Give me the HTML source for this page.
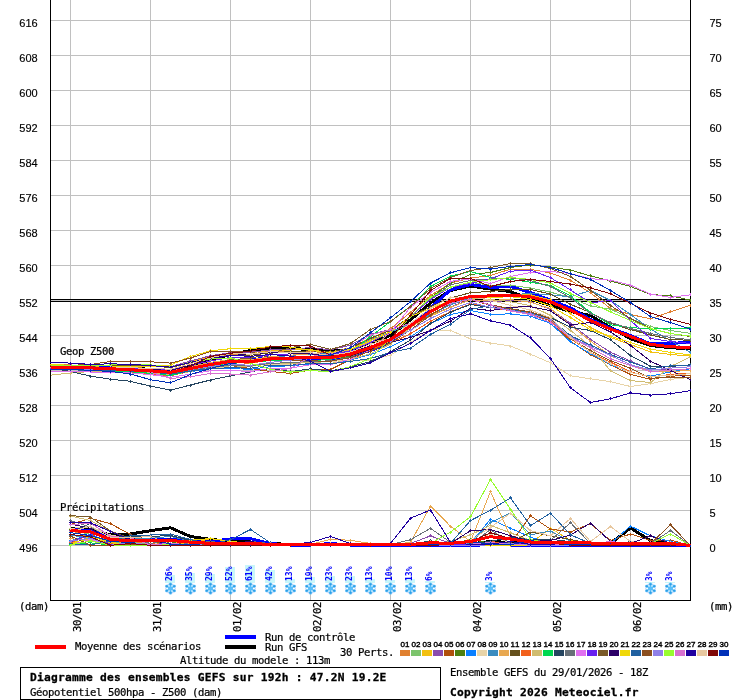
<!DOCTYPE html>
<html lang="fr"><head><meta charset="utf-8"><title>Diagramme des ensembles GEFS</title>
<style>
html,body{margin:0;padding:0;background:#fff;}
body{width:740px;height:700px;overflow:hidden;position:relative;}
svg{position:absolute;left:0;top:0;display:block;will-change:transform;}
.ax{font-family:"Liberation Sans",sans-serif;font-size:11px;fill:#000;stroke:#000;stroke-width:0.15px;}
.mono{font-family:"DejaVu Sans Mono","Liberation Mono",monospace;font-size:10.6px;letter-spacing:-0.381px;fill:#000;stroke:#000;stroke-width:0.22px;}
.monob{font-family:"DejaVu Sans Mono","Liberation Mono",monospace;font-size:11.2px;letter-spacing:0.257px;font-weight:bold;fill:#000;stroke:#000;stroke-width:0.3px;}
.tiny{font-family:"Liberation Sans",sans-serif;font-size:8px;fill:#000;stroke:#000;stroke-width:0.4px;}
.pct{font-family:"DejaVu Sans Mono","Liberation Mono",monospace;font-size:8.3px;fill:#0000ff;font-weight:bold;}
</style></head><body>
<svg width="740" height="700" viewBox="0 0 740 700">
<rect x="0" y="0" width="740" height="700" fill="#ffffff"/>
<g shape-rendering="crispEdges" stroke="#c0c0c0" stroke-width="1">
<line x1="50" y1="20.5" x2="691" y2="20.5"/>
<line x1="50" y1="55.5" x2="691" y2="55.5"/>
<line x1="50" y1="90.5" x2="691" y2="90.5"/>
<line x1="50" y1="125.5" x2="691" y2="125.5"/>
<line x1="50" y1="160.5" x2="691" y2="160.5"/>
<line x1="50" y1="195.5" x2="691" y2="195.5"/>
<line x1="50" y1="230.5" x2="691" y2="230.5"/>
<line x1="50" y1="265.5" x2="691" y2="265.5"/>
<line x1="50" y1="300.5" x2="691" y2="300.5"/>
<line x1="50" y1="335.5" x2="691" y2="335.5"/>
<line x1="50" y1="370.5" x2="691" y2="370.5"/>
<line x1="50" y1="405.5" x2="691" y2="405.5"/>
<line x1="50" y1="440.5" x2="691" y2="440.5"/>
<line x1="50" y1="475.5" x2="691" y2="475.5"/>
<line x1="50" y1="510.5" x2="691" y2="510.5"/>
<line x1="50" y1="545.5" x2="691" y2="545.5"/>
<line x1="70.5" y1="0" x2="70.5" y2="600"/>
<line x1="150.5" y1="0" x2="150.5" y2="600"/>
<line x1="230.5" y1="0" x2="230.5" y2="600"/>
<line x1="310.5" y1="0" x2="310.5" y2="600"/>
<line x1="390.5" y1="0" x2="390.5" y2="600"/>
<line x1="470.5" y1="0" x2="470.5" y2="600"/>
<line x1="550.5" y1="0" x2="550.5" y2="600"/>
<line x1="630.5" y1="0" x2="630.5" y2="600"/>
</g>
<g shape-rendering="crispEdges" stroke="#000" stroke-width="1">
<line x1="50.5" y1="0" x2="50.5" y2="601"/>
<line x1="690.5" y1="0" x2="690.5" y2="601"/>
<line x1="50" y1="600.5" x2="691" y2="600.5"/>
<line x1="50" y1="299.5" x2="691" y2="299.5"/>
<line x1="50" y1="301.5" x2="691" y2="301.5"/>
</g>
<text class="ax" x="19.3" y="27">616</text>
<text class="ax" x="709.4" y="27">75</text>
<text class="ax" x="19.3" y="62">608</text>
<text class="ax" x="709.4" y="62">70</text>
<text class="ax" x="19.3" y="97">600</text>
<text class="ax" x="709.4" y="97">65</text>
<text class="ax" x="19.3" y="132">592</text>
<text class="ax" x="709.4" y="132">60</text>
<text class="ax" x="19.3" y="167">584</text>
<text class="ax" x="709.4" y="167">55</text>
<text class="ax" x="19.3" y="202">576</text>
<text class="ax" x="709.4" y="202">50</text>
<text class="ax" x="19.3" y="237">568</text>
<text class="ax" x="709.4" y="237">45</text>
<text class="ax" x="19.3" y="272">560</text>
<text class="ax" x="709.4" y="272">40</text>
<text class="ax" x="19.3" y="307">552</text>
<text class="ax" x="709.4" y="307">35</text>
<text class="ax" x="19.3" y="342">544</text>
<text class="ax" x="709.4" y="342">30</text>
<text class="ax" x="19.3" y="377">536</text>
<text class="ax" x="709.4" y="377">25</text>
<text class="ax" x="19.3" y="412">528</text>
<text class="ax" x="709.4" y="412">20</text>
<text class="ax" x="19.3" y="447">520</text>
<text class="ax" x="709.4" y="447">15</text>
<text class="ax" x="19.3" y="482">512</text>
<text class="ax" x="709.4" y="482">10</text>
<text class="ax" x="19.3" y="517">504</text>
<text class="ax" x="709.4" y="517">5</text>
<text class="ax" x="19.3" y="552">496</text>
<text class="ax" x="709.4" y="552">0</text>
<clipPath id="plotclip"><rect x="49" y="0" width="642" height="601"/></clipPath>
<g shape-rendering="crispEdges" stroke-linejoin="round" clip-path="url(#plotclip)">
<polyline points="50.5,366.0 70.5,366.0 90.5,366.4 110.5,367.2 130.5,368.3 150.5,369.3 170.5,370.8 190.5,367.0 210.5,360.0 230.5,354.5 250.5,350.5 270.5,348.0 290.5,348.5 310.5,349.5 330.5,351.0 350.5,350.0 370.5,343.0 390.5,335.5 410.5,319.8 430.5,303.0 450.5,290.5 470.5,286.0 490.5,289.1 510.5,291.6 530.5,299.4 550.5,305.4 570.5,311.5 590.5,315.5 610.5,327.5 630.5,338.7 650.5,345.5 670.5,347.8 690.5,348.5" fill="none" stroke="#000000" stroke-width="3"/>
<polyline points="50.5,367.5 70.5,367.0 90.5,366.9 110.5,367.7 130.5,368.8 150.5,369.8 170.5,371.3 190.5,367.5 210.5,363.5 230.5,360.5 250.5,360.0 270.5,357.5 290.5,359.1 310.5,358.6 330.5,358.6 350.5,356.0 370.5,350.5 390.5,342.8 410.5,326.9 430.5,308.0 450.5,289.8 470.5,284.5 490.5,287.4 510.5,286.5 530.5,292.5 550.5,300.2 570.5,307.9 590.5,319.5 610.5,328.1 630.5,335.5 650.5,343.9 670.5,343.3 690.5,342.5" fill="none" stroke="#0000ff" stroke-width="3"/>
<polyline points="70.5,528.5 90.5,529.5 110.5,535.0 130.5,534.0 150.5,530.7 170.5,527.8 190.5,536.5 210.5,539.3 230.5,541.5 250.5,542.0 270.5,543.5 290.5,544.5 310.5,544.5 330.5,544.0 350.5,544.5 370.5,545.0 390.5,545.0 410.5,545.0 430.5,544.5 450.5,544.5 470.5,544.0 490.5,541.5 510.5,542.5 530.5,544.0 550.5,544.5 570.5,544.5 590.5,544.5 610.5,543.5 630.5,528.0 650.5,540.6 670.5,543.5 690.5,545.5" fill="none" stroke="#000000" stroke-width="3"/>
<polyline points="70.5,529.5 90.5,530.5 110.5,537.5 130.5,539.5 150.5,539.5 170.5,539.5 190.5,540.5 210.5,541.5 230.5,539.0 250.5,538.7 270.5,543.5 290.5,545.0 310.5,545.0 330.5,543.5 350.5,545.0 370.5,545.5 390.5,545.5 410.5,545.5 430.5,545.5 450.5,545.5 470.5,545.5 490.5,544.5 510.5,545.0 530.5,545.5 550.5,545.5 570.5,545.5 590.5,545.5 610.5,545.5 630.5,545.5 650.5,545.5 670.5,545.5 690.5,545.5" fill="none" stroke="#0000ff" stroke-width="3"/>
<polyline points="50.5,364.1 70.5,365.0 90.5,365.8 110.5,365.9 130.5,367.2 150.5,368.6 170.5,369.3 190.5,363.8 210.5,358.3 230.5,354.9 250.5,354.1 270.5,351.3 290.5,352.1 310.5,351.1 330.5,353.9 350.5,349.6 370.5,339.4 390.5,328.6 410.5,312.4 430.5,295.5 450.5,283.2 470.5,278.1 490.5,275.5 510.5,269.1 530.5,269.3 550.5,273.0 570.5,280.4 590.5,292.8 610.5,308.5 630.5,314.5 650.5,318.8 670.5,311.9 690.5,305.1" fill="none" stroke="#e08030" stroke-width="1"/>
<path d="M69 364.5h3M70.5 363v3M89 365.5h3M90.5 364v3M109 365.5h3M110.5 364v3M129 367.5h3M130.5 366v3M149 368.5h3M150.5 367v3M169 369.5h3M170.5 368v3M189 363.5h3M190.5 362v3M209 358.5h3M210.5 357v3M229 354.5h3M230.5 353v3M249 354.5h3M250.5 353v3M269 351.5h3M270.5 350v3M289 352.5h3M290.5 351v3M309 351.5h3M310.5 350v3M329 353.5h3M330.5 352v3M349 349.5h3M350.5 348v3M369 339.5h3M370.5 338v3M389 328.5h3M390.5 327v3M409 312.5h3M410.5 311v3M429 295.5h3M430.5 294v3M449 283.5h3M450.5 282v3M469 278.5h3M470.5 277v3M489 275.5h3M490.5 274v3M509 269.5h3M510.5 268v3M529 269.5h3M530.5 268v3M549 273.5h3M550.5 272v3M569 280.5h3M570.5 279v3M589 292.5h3M590.5 291v3M609 308.5h3M610.5 307v3M629 314.5h3M630.5 313v3M649 318.5h3M650.5 317v3M669 311.5h3M670.5 310v3M689 305.5h3M690.5 304v3" stroke="#e08030" stroke-width="1" fill="none"/>
<polyline points="50.5,367.5 70.5,367.9 90.5,368.2 110.5,369.4 130.5,370.7 150.5,371.8 170.5,373.5 190.5,369.0 210.5,364.8 230.5,361.1 250.5,360.5 270.5,358.4 290.5,357.3 310.5,357.5 330.5,357.7 350.5,354.2 370.5,346.7 390.5,338.9 410.5,316.4 430.5,299.1 450.5,287.1 470.5,282.3 490.5,285.3 510.5,285.2 530.5,288.1 550.5,292.2 570.5,297.6 590.5,306.0 610.5,309.1 630.5,318.5 650.5,326.5 670.5,330.5 690.5,333.4" fill="none" stroke="#7cc46c" stroke-width="1"/>
<path d="M69 367.5h3M70.5 366v3M89 368.5h3M90.5 367v3M109 369.5h3M110.5 368v3M129 370.5h3M130.5 369v3M149 371.5h3M150.5 370v3M169 373.5h3M170.5 372v3M189 369.5h3M190.5 368v3M209 364.5h3M210.5 363v3M229 361.5h3M230.5 360v3M249 360.5h3M250.5 359v3M269 358.5h3M270.5 357v3M289 357.5h3M290.5 356v3M309 357.5h3M310.5 356v3M329 357.5h3M330.5 356v3M349 354.5h3M350.5 353v3M369 346.5h3M370.5 345v3M389 338.5h3M390.5 337v3M409 316.5h3M410.5 315v3M429 299.5h3M430.5 298v3M449 287.5h3M450.5 286v3M469 282.5h3M470.5 281v3M489 285.5h3M490.5 284v3M509 285.5h3M510.5 284v3M529 288.5h3M530.5 287v3M549 292.5h3M550.5 291v3M569 297.5h3M570.5 296v3M589 305.5h3M590.5 304v3M609 309.5h3M610.5 308v3M629 318.5h3M630.5 317v3M649 326.5h3M650.5 325v3M669 330.5h3M670.5 329v3M689 333.5h3M690.5 332v3" stroke="#7cc46c" stroke-width="1" fill="none"/>
<polyline points="50.5,365.8 70.5,366.1 90.5,366.3 110.5,365.6 130.5,365.0 150.5,365.6 170.5,367.0 190.5,361.9 210.5,356.8 230.5,353.1 250.5,352.9 270.5,350.2 290.5,350.0 310.5,349.7 330.5,352.1 350.5,347.7 370.5,337.8 390.5,332.1 410.5,324.3 430.5,315.0 450.5,307.1 470.5,299.2 490.5,297.3 510.5,294.6 530.5,294.9 550.5,299.8 570.5,313.8 590.5,327.5 610.5,337.5 630.5,344.5 650.5,351.9 670.5,354.5 690.5,356.0" fill="none" stroke="#f2c010" stroke-width="1"/>
<path d="M69 366.5h3M70.5 365v3M89 366.5h3M90.5 365v3M109 365.5h3M110.5 364v3M129 365.5h3M130.5 364v3M149 365.5h3M150.5 364v3M169 367.5h3M170.5 366v3M189 361.5h3M190.5 360v3M209 356.5h3M210.5 355v3M229 353.5h3M230.5 352v3M249 352.5h3M250.5 351v3M269 350.5h3M270.5 349v3M289 350.5h3M290.5 349v3M309 349.5h3M310.5 348v3M329 352.5h3M330.5 351v3M349 347.5h3M350.5 346v3M369 337.5h3M370.5 336v3M389 332.5h3M390.5 331v3M409 324.5h3M410.5 323v3M429 314.5h3M430.5 313v3M449 307.5h3M450.5 306v3M469 299.5h3M470.5 298v3M489 297.5h3M490.5 296v3M509 294.5h3M510.5 293v3M529 294.5h3M530.5 293v3M549 299.5h3M550.5 298v3M569 313.5h3M570.5 312v3M589 327.5h3M590.5 326v3M609 337.5h3M610.5 336v3M629 344.5h3M630.5 343v3M649 351.5h3M650.5 350v3M669 354.5h3M670.5 353v3M689 356.5h3M690.5 355v3" stroke="#f2c010" stroke-width="1" fill="none"/>
<polyline points="50.5,365.9 70.5,366.0 90.5,366.3 110.5,365.2 130.5,365.4 150.5,365.6 170.5,366.7 190.5,361.0 210.5,355.7 230.5,352.7 250.5,352.2 270.5,350.0 290.5,349.4 310.5,347.5 330.5,349.9 350.5,345.1 370.5,334.1 390.5,329.7 410.5,323.2 430.5,316.0 450.5,306.8 470.5,299.8 490.5,301.7 510.5,300.5 530.5,301.9 550.5,309.3 570.5,323.4 590.5,339.3 610.5,352.3 630.5,361.0 650.5,369.2 670.5,369.7 690.5,370.2" fill="none" stroke="#8a4cad" stroke-width="1"/>
<path d="M69 366.5h3M70.5 365v3M89 366.5h3M90.5 365v3M109 365.5h3M110.5 364v3M129 365.5h3M130.5 364v3M149 365.5h3M150.5 364v3M169 366.5h3M170.5 365v3M189 360.5h3M190.5 359v3M209 355.5h3M210.5 354v3M229 352.5h3M230.5 351v3M249 352.5h3M250.5 351v3M269 349.5h3M270.5 348v3M289 349.5h3M290.5 348v3M309 347.5h3M310.5 346v3M329 349.5h3M330.5 348v3M349 345.5h3M350.5 344v3M369 334.5h3M370.5 333v3M389 329.5h3M390.5 328v3M409 323.5h3M410.5 322v3M429 316.5h3M430.5 315v3M449 306.5h3M450.5 305v3M469 299.5h3M470.5 298v3M489 301.5h3M490.5 300v3M509 300.5h3M510.5 299v3M529 301.5h3M530.5 300v3M549 309.5h3M550.5 308v3M569 323.5h3M570.5 322v3M589 339.5h3M590.5 338v3M609 352.5h3M610.5 351v3M629 360.5h3M630.5 359v3M649 369.5h3M650.5 368v3M669 369.5h3M670.5 368v3M689 370.5h3M690.5 369v3" stroke="#8a4cad" stroke-width="1" fill="none"/>
<polyline points="50.5,366.7 70.5,366.9 90.5,367.4 110.5,368.1 130.5,368.8 150.5,370.1 170.5,371.8 190.5,368.6 210.5,366.0 230.5,365.5 250.5,368.5 270.5,371.5 290.5,373.5 310.5,370.0 330.5,369.5 350.5,359.6 370.5,350.5 390.5,341.1 410.5,327.9 430.5,314.2 450.5,304.0 470.5,299.7 490.5,305.3 510.5,309.9 530.5,314.0 550.5,321.0 570.5,341.1 590.5,354.9 610.5,364.9 630.5,374.4 650.5,379.3 670.5,376.3 690.5,375.0" fill="none" stroke="#b0500c" stroke-width="1"/>
<path d="M69 366.5h3M70.5 365v3M89 367.5h3M90.5 366v3M109 368.5h3M110.5 367v3M129 368.5h3M130.5 367v3M149 370.5h3M150.5 369v3M169 371.5h3M170.5 370v3M189 368.5h3M190.5 367v3M209 365.5h3M210.5 364v3M229 365.5h3M230.5 364v3M249 368.5h3M250.5 367v3M269 371.5h3M270.5 370v3M289 373.5h3M290.5 372v3M309 370.5h3M310.5 369v3M329 369.5h3M330.5 368v3M349 359.5h3M350.5 358v3M369 350.5h3M370.5 349v3M389 341.5h3M390.5 340v3M409 327.5h3M410.5 326v3M429 314.5h3M430.5 313v3M449 304.5h3M450.5 303v3M469 299.5h3M470.5 298v3M489 305.5h3M490.5 304v3M509 309.5h3M510.5 308v3M529 313.5h3M530.5 312v3M549 321.5h3M550.5 320v3M569 341.5h3M570.5 340v3M589 354.5h3M590.5 353v3M609 364.5h3M610.5 363v3M629 374.5h3M630.5 373v3M649 379.5h3M650.5 378v3M669 376.5h3M670.5 375v3M689 375.5h3M690.5 374v3" stroke="#b0500c" stroke-width="1" fill="none"/>
<polyline points="50.5,365.8 70.5,366.2 90.5,366.9 110.5,367.8 130.5,369.5 150.5,371.1 170.5,372.5 190.5,367.8 210.5,363.8 230.5,360.5 250.5,359.9 270.5,357.4 290.5,357.7 310.5,358.0 330.5,358.8 350.5,356.4 370.5,348.8 390.5,332.1 410.5,316.4 430.5,297.5 450.5,283.1 470.5,274.5 490.5,272.5 510.5,267.5 530.5,265.0 550.5,267.0 570.5,270.1 590.5,275.9 610.5,281.0 630.5,286.5 650.5,294.5 670.5,295.9 690.5,300.1" fill="none" stroke="#4e8010" stroke-width="1"/>
<path d="M69 366.5h3M70.5 365v3M89 366.5h3M90.5 365v3M109 367.5h3M110.5 366v3M129 369.5h3M130.5 368v3M149 371.5h3M150.5 370v3M169 372.5h3M170.5 371v3M189 367.5h3M190.5 366v3M209 363.5h3M210.5 362v3M229 360.5h3M230.5 359v3M249 359.5h3M250.5 358v3M269 357.5h3M270.5 356v3M289 357.5h3M290.5 356v3M309 357.5h3M310.5 356v3M329 358.5h3M330.5 357v3M349 356.5h3M350.5 355v3M369 348.5h3M370.5 347v3M389 332.5h3M390.5 331v3M409 316.5h3M410.5 315v3M429 297.5h3M430.5 296v3M449 283.5h3M450.5 282v3M469 274.5h3M470.5 273v3M489 272.5h3M490.5 271v3M509 267.5h3M510.5 266v3M529 265.5h3M530.5 264v3M549 267.5h3M550.5 266v3M569 270.5h3M570.5 269v3M589 275.5h3M590.5 274v3M609 281.5h3M610.5 280v3M629 286.5h3M630.5 285v3M649 294.5h3M650.5 293v3M669 295.5h3M670.5 294v3M689 300.5h3M690.5 299v3" stroke="#4e8010" stroke-width="1" fill="none"/>
<polyline points="50.5,369.8 70.5,369.6 90.5,369.9 110.5,370.6 130.5,371.1 150.5,372.4 170.5,374.6 190.5,371.6 210.5,368.7 230.5,368.4 250.5,369.4 270.5,366.6 290.5,365.8 310.5,364.0 330.5,363.8 350.5,359.8 370.5,354.7 390.5,346.7 410.5,336.8 430.5,323.7 450.5,314.5 470.5,310.5 490.5,314.3 510.5,313.9 530.5,316.2 550.5,323.4 570.5,341.9 590.5,353.7 610.5,364.4 630.5,372.3 650.5,376.2 670.5,371.9 690.5,368.7" fill="none" stroke="#0a80ff" stroke-width="1"/>
<path d="M69 369.5h3M70.5 368v3M89 369.5h3M90.5 368v3M109 370.5h3M110.5 369v3M129 371.5h3M130.5 370v3M149 372.5h3M150.5 371v3M169 374.5h3M170.5 373v3M189 371.5h3M190.5 370v3M209 368.5h3M210.5 367v3M229 368.5h3M230.5 367v3M249 369.5h3M250.5 368v3M269 366.5h3M270.5 365v3M289 365.5h3M290.5 364v3M309 363.5h3M310.5 362v3M329 363.5h3M330.5 362v3M349 359.5h3M350.5 358v3M369 354.5h3M370.5 353v3M389 346.5h3M390.5 345v3M409 336.5h3M410.5 335v3M429 323.5h3M430.5 322v3M449 314.5h3M450.5 313v3M469 310.5h3M470.5 309v3M489 314.5h3M490.5 313v3M509 313.5h3M510.5 312v3M529 316.5h3M530.5 315v3M549 323.5h3M550.5 322v3M569 341.5h3M570.5 340v3M589 353.5h3M590.5 352v3M609 364.5h3M610.5 363v3M629 372.5h3M630.5 371v3M649 376.5h3M650.5 375v3M669 371.5h3M670.5 370v3M689 368.5h3M690.5 367v3" stroke="#0a80ff" stroke-width="1" fill="none"/>
<polyline points="50.5,366.0 70.5,366.4 90.5,367.6 110.5,369.2 130.5,370.8 150.5,371.9 170.5,374.2 190.5,371.1 210.5,367.7 230.5,367.6 250.5,368.5 270.5,364.5 290.5,364.1 310.5,361.1 330.5,361.2 350.5,360.6 370.5,360.5 390.5,355.1 410.5,342.5 430.5,329.7 450.5,330.5 470.5,338.8 490.5,343.1 510.5,346.0 530.5,354.2 550.5,362.8 570.5,375.8 590.5,378.8 610.5,381.6 630.5,386.5 650.5,383.7 670.5,379.4 690.5,377.3" fill="none" stroke="#e8d4a8" stroke-width="1"/>
<path d="M69 366.5h3M70.5 365v3M89 367.5h3M90.5 366v3M109 369.5h3M110.5 368v3M129 370.5h3M130.5 369v3M149 371.5h3M150.5 370v3M169 374.5h3M170.5 373v3M189 371.5h3M190.5 370v3M209 367.5h3M210.5 366v3M229 367.5h3M230.5 366v3M249 368.5h3M250.5 367v3M269 364.5h3M270.5 363v3M289 364.5h3M290.5 363v3M309 361.5h3M310.5 360v3M329 361.5h3M330.5 360v3M349 360.5h3M350.5 359v3M369 360.5h3M370.5 359v3M389 355.5h3M390.5 354v3M409 342.5h3M410.5 341v3M429 329.5h3M430.5 328v3M449 330.5h3M450.5 329v3M469 338.5h3M470.5 337v3M489 343.5h3M490.5 342v3M509 346.5h3M510.5 345v3M529 354.5h3M530.5 353v3M549 362.5h3M550.5 361v3M569 375.5h3M570.5 374v3M589 378.5h3M590.5 377v3M609 381.5h3M610.5 380v3M629 386.5h3M630.5 385v3M649 383.5h3M650.5 382v3M669 379.5h3M670.5 378v3M689 377.5h3M690.5 376v3" stroke="#e8d4a8" stroke-width="1" fill="none"/>
<polyline points="50.5,371.3 70.5,371.3 90.5,371.3 110.5,370.8 130.5,371.0 150.5,372.3 170.5,373.8 190.5,369.7 210.5,364.6 230.5,360.8 250.5,361.1 270.5,357.8 290.5,355.4 310.5,354.0 330.5,353.8 350.5,349.6 370.5,339.9 390.5,332.1 410.5,323.9 430.5,314.6 450.5,304.7 470.5,298.0 490.5,296.9 510.5,294.9 530.5,293.4 550.5,294.8 570.5,296.8 590.5,290.5 610.5,300.5 630.5,314.5 650.5,329.1 670.5,340.5 690.5,352.5" fill="none" stroke="#3a8cc0" stroke-width="1"/>
<path d="M69 371.5h3M70.5 370v3M89 371.5h3M90.5 370v3M109 370.5h3M110.5 369v3M129 370.5h3M130.5 369v3M149 372.5h3M150.5 371v3M169 373.5h3M170.5 372v3M189 369.5h3M190.5 368v3M209 364.5h3M210.5 363v3M229 360.5h3M230.5 359v3M249 361.5h3M250.5 360v3M269 357.5h3M270.5 356v3M289 355.5h3M290.5 354v3M309 354.5h3M310.5 353v3M329 353.5h3M330.5 352v3M349 349.5h3M350.5 348v3M369 339.5h3M370.5 338v3M389 332.5h3M390.5 331v3M409 323.5h3M410.5 322v3M429 314.5h3M430.5 313v3M449 304.5h3M450.5 303v3M469 298.5h3M470.5 297v3M489 296.5h3M490.5 295v3M509 294.5h3M510.5 293v3M529 293.5h3M530.5 292v3M549 294.5h3M550.5 293v3M569 296.5h3M570.5 295v3M589 290.5h3M590.5 289v3M609 300.5h3M610.5 299v3M629 314.5h3M630.5 313v3M649 329.5h3M650.5 328v3M669 340.5h3M670.5 339v3M689 352.5h3M690.5 351v3" stroke="#3a8cc0" stroke-width="1" fill="none"/>
<polyline points="50.5,367.3 70.5,367.5 90.5,367.6 110.5,367.6 130.5,368.3 150.5,369.4 170.5,370.3 190.5,366.7 210.5,362.3 230.5,359.6 250.5,360.0 270.5,356.6 290.5,355.2 310.5,353.8 330.5,354.4 350.5,349.7 370.5,342.0 390.5,338.9 410.5,327.2 430.5,316.3 450.5,307.3 470.5,299.9 490.5,300.4 510.5,299.5 530.5,302.3 550.5,308.6 570.5,325.1 590.5,341.1 610.5,355.7 630.5,364.5 650.5,371.6 670.5,371.1 690.5,370.9" fill="none" stroke="#e8a850" stroke-width="1"/>
<path d="M69 367.5h3M70.5 366v3M89 367.5h3M90.5 366v3M109 367.5h3M110.5 366v3M129 368.5h3M130.5 367v3M149 369.5h3M150.5 368v3M169 370.5h3M170.5 369v3M189 366.5h3M190.5 365v3M209 362.5h3M210.5 361v3M229 359.5h3M230.5 358v3M249 360.5h3M250.5 359v3M269 356.5h3M270.5 355v3M289 355.5h3M290.5 354v3M309 353.5h3M310.5 352v3M329 354.5h3M330.5 353v3M349 349.5h3M350.5 348v3M369 342.5h3M370.5 341v3M389 338.5h3M390.5 337v3M409 327.5h3M410.5 326v3M429 316.5h3M430.5 315v3M449 307.5h3M450.5 306v3M469 299.5h3M470.5 298v3M489 300.5h3M490.5 299v3M509 299.5h3M510.5 298v3M529 302.5h3M530.5 301v3M549 308.5h3M550.5 307v3M569 325.5h3M570.5 324v3M589 341.5h3M590.5 340v3M609 355.5h3M610.5 354v3M629 364.5h3M630.5 363v3M649 371.5h3M650.5 370v3M669 371.5h3M670.5 370v3M689 370.5h3M690.5 369v3" stroke="#e8a850" stroke-width="1" fill="none"/>
<polyline points="50.5,365.7 70.5,366.1 90.5,366.2 110.5,365.4 130.5,365.1 150.5,365.9 170.5,367.5 190.5,362.6 210.5,357.9 230.5,355.8 250.5,355.3 270.5,352.7 290.5,351.7 310.5,350.8 330.5,352.1 350.5,347.9 370.5,338.2 390.5,330.4 410.5,316.4 430.5,306.7 450.5,298.0 470.5,292.7 490.5,291.4 510.5,289.5 530.5,289.3 550.5,294.2 570.5,304.4 590.5,312.5 610.5,323.2 630.5,329.7 650.5,334.8 670.5,339.7 690.5,340.2" fill="none" stroke="#65501c" stroke-width="1"/>
<path d="M69 366.5h3M70.5 365v3M89 366.5h3M90.5 365v3M109 365.5h3M110.5 364v3M129 365.5h3M130.5 364v3M149 365.5h3M150.5 364v3M169 367.5h3M170.5 366v3M189 362.5h3M190.5 361v3M209 357.5h3M210.5 356v3M229 355.5h3M230.5 354v3M249 355.5h3M250.5 354v3M269 352.5h3M270.5 351v3M289 351.5h3M290.5 350v3M309 350.5h3M310.5 349v3M329 352.5h3M330.5 351v3M349 347.5h3M350.5 346v3M369 338.5h3M370.5 337v3M389 330.5h3M390.5 329v3M409 316.5h3M410.5 315v3M429 306.5h3M430.5 305v3M449 297.5h3M450.5 296v3M469 292.5h3M470.5 291v3M489 291.5h3M490.5 290v3M509 289.5h3M510.5 288v3M529 289.5h3M530.5 288v3M549 294.5h3M550.5 293v3M569 304.5h3M570.5 303v3M589 312.5h3M590.5 311v3M609 323.5h3M610.5 322v3M629 329.5h3M630.5 328v3M649 334.5h3M650.5 333v3M669 339.5h3M670.5 338v3M689 340.5h3M690.5 339v3" stroke="#65501c" stroke-width="1" fill="none"/>
<polyline points="50.5,369.4 70.5,369.4 90.5,370.5 110.5,371.4 130.5,372.4 150.5,373.8 170.5,375.7 190.5,371.4 210.5,366.7 230.5,362.8 250.5,363.1 270.5,360.2 290.5,359.6 310.5,358.9 330.5,359.1 350.5,355.2 370.5,348.8 390.5,343.2 410.5,333.7 430.5,321.2 450.5,311.7 470.5,303.9 490.5,307.5 510.5,310.8 530.5,313.4 550.5,320.3 570.5,338.9 590.5,352.2 610.5,362.1 630.5,371.6 650.5,377.3 670.5,374.3 690.5,373.1" fill="none" stroke="#f2601c" stroke-width="1"/>
<path d="M69 369.5h3M70.5 368v3M89 370.5h3M90.5 369v3M109 371.5h3M110.5 370v3M129 372.5h3M130.5 371v3M149 373.5h3M150.5 372v3M169 375.5h3M170.5 374v3M189 371.5h3M190.5 370v3M209 366.5h3M210.5 365v3M229 362.5h3M230.5 361v3M249 363.5h3M250.5 362v3M269 360.5h3M270.5 359v3M289 359.5h3M290.5 358v3M309 358.5h3M310.5 357v3M329 359.5h3M330.5 358v3M349 355.5h3M350.5 354v3M369 348.5h3M370.5 347v3M389 343.5h3M390.5 342v3M409 333.5h3M410.5 332v3M429 321.5h3M430.5 320v3M449 311.5h3M450.5 310v3M469 303.5h3M470.5 302v3M489 307.5h3M490.5 306v3M509 310.5h3M510.5 309v3M529 313.5h3M530.5 312v3M549 320.5h3M550.5 319v3M569 338.5h3M570.5 337v3M589 352.5h3M590.5 351v3M609 362.5h3M610.5 361v3M629 371.5h3M630.5 370v3M649 377.5h3M650.5 376v3M669 374.5h3M670.5 373v3M689 373.5h3M690.5 372v3" stroke="#f2601c" stroke-width="1" fill="none"/>
<polyline points="50.5,375.2 70.5,373.0 90.5,371.5 110.5,371.1 130.5,371.7 150.5,372.9 170.5,375.0 190.5,371.5 210.5,367.9 230.5,365.8 250.5,366.4 270.5,363.7 290.5,363.9 310.5,362.2 330.5,363.7 350.5,359.2 370.5,353.7 390.5,344.1 410.5,327.9 430.5,312.1 450.5,301.5 470.5,297.8 490.5,299.5 510.5,301.6 530.5,305.8 550.5,315.4 570.5,330.5 590.5,346.2 610.5,370.9 630.5,380.5 650.5,382.6 670.5,366.5 690.5,356.9" fill="none" stroke="#d0bc70" stroke-width="1"/>
<path d="M69 373.5h3M70.5 372v3M89 371.5h3M90.5 370v3M109 371.5h3M110.5 370v3M129 371.5h3M130.5 370v3M149 372.5h3M150.5 371v3M169 375.5h3M170.5 374v3M189 371.5h3M190.5 370v3M209 367.5h3M210.5 366v3M229 365.5h3M230.5 364v3M249 366.5h3M250.5 365v3M269 363.5h3M270.5 362v3M289 363.5h3M290.5 362v3M309 362.5h3M310.5 361v3M329 363.5h3M330.5 362v3M349 359.5h3M350.5 358v3M369 353.5h3M370.5 352v3M389 344.5h3M390.5 343v3M409 327.5h3M410.5 326v3M429 312.5h3M430.5 311v3M449 301.5h3M450.5 300v3M469 297.5h3M470.5 296v3M489 299.5h3M490.5 298v3M509 301.5h3M510.5 300v3M529 305.5h3M530.5 304v3M549 315.5h3M550.5 314v3M569 330.5h3M570.5 329v3M589 346.5h3M590.5 345v3M609 370.5h3M610.5 369v3M629 380.5h3M630.5 379v3M649 382.5h3M650.5 381v3M669 366.5h3M670.5 365v3M689 356.5h3M690.5 355v3" stroke="#d0bc70" stroke-width="1" fill="none"/>
<polyline points="50.5,369.3 70.5,369.3 90.5,370.0 110.5,370.8 130.5,371.8 150.5,373.3 170.5,375.5 190.5,370.8 210.5,366.6 230.5,363.4 250.5,362.2 270.5,360.7 290.5,360.9 310.5,360.5 330.5,359.6 350.5,352.3 370.5,336.5 390.5,321.5 410.5,306.2 430.5,286.5 450.5,276.2 470.5,271.5 490.5,277.5 510.5,279.5 530.5,282.2 550.5,285.5 570.5,295.9 590.5,312.5 610.5,324.8 630.5,327.5 650.5,329.1 670.5,328.5 690.5,327.9" fill="none" stroke="#00d850" stroke-width="1"/>
<path d="M69 369.5h3M70.5 368v3M89 370.5h3M90.5 369v3M109 370.5h3M110.5 369v3M129 371.5h3M130.5 370v3M149 373.5h3M150.5 372v3M169 375.5h3M170.5 374v3M189 370.5h3M190.5 369v3M209 366.5h3M210.5 365v3M229 363.5h3M230.5 362v3M249 362.5h3M250.5 361v3M269 360.5h3M270.5 359v3M289 360.5h3M290.5 359v3M309 360.5h3M310.5 359v3M329 359.5h3M330.5 358v3M349 352.5h3M350.5 351v3M369 336.5h3M370.5 335v3M389 321.5h3M390.5 320v3M409 306.5h3M410.5 305v3M429 286.5h3M430.5 285v3M449 276.5h3M450.5 275v3M469 271.5h3M470.5 270v3M489 277.5h3M490.5 276v3M509 279.5h3M510.5 278v3M529 282.5h3M530.5 281v3M549 285.5h3M550.5 284v3M569 295.5h3M570.5 294v3M589 312.5h3M590.5 311v3M609 324.5h3M610.5 323v3M629 327.5h3M630.5 326v3M649 329.5h3M650.5 328v3M669 328.5h3M670.5 327v3M689 327.5h3M690.5 326v3" stroke="#00d850" stroke-width="1" fill="none"/>
<polyline points="50.5,367.9 70.5,371.5 90.5,376.1 110.5,379.2 130.5,381.3 150.5,386.2 170.5,390.1 190.5,385.0 210.5,380.0 230.5,375.9 250.5,371.8 270.5,368.5 290.5,371.6 310.5,368.8 330.5,371.0 350.5,366.8 370.5,361.5 390.5,351.8 410.5,340.0 430.5,323.4 450.5,312.2 470.5,304.5 490.5,307.7 510.5,308.5 530.5,312.2 550.5,317.6 570.5,327.2 590.5,330.5 610.5,339.8 630.5,355.5 650.5,366.2 670.5,366.5 690.5,364.8" fill="none" stroke="#254560" stroke-width="1"/>
<path d="M69 371.5h3M70.5 370v3M89 376.5h3M90.5 375v3M109 379.5h3M110.5 378v3M129 381.5h3M130.5 380v3M149 386.5h3M150.5 385v3M169 390.5h3M170.5 389v3M189 385.5h3M190.5 384v3M209 380.5h3M210.5 379v3M229 375.5h3M230.5 374v3M249 371.5h3M250.5 370v3M269 368.5h3M270.5 367v3M289 371.5h3M290.5 370v3M309 368.5h3M310.5 367v3M329 370.5h3M330.5 369v3M349 366.5h3M350.5 365v3M369 361.5h3M370.5 360v3M389 351.5h3M390.5 350v3M409 339.5h3M410.5 338v3M429 323.5h3M430.5 322v3M449 312.5h3M450.5 311v3M469 304.5h3M470.5 303v3M489 307.5h3M490.5 306v3M509 308.5h3M510.5 307v3M529 312.5h3M530.5 311v3M549 317.5h3M550.5 316v3M569 327.5h3M570.5 326v3M589 330.5h3M590.5 329v3M609 339.5h3M610.5 338v3M629 355.5h3M630.5 354v3M649 366.5h3M650.5 365v3M669 366.5h3M670.5 365v3M689 364.5h3M690.5 363v3" stroke="#254560" stroke-width="1" fill="none"/>
<polyline points="50.5,366.1 70.5,366.4 90.5,367.4 110.5,369.1 130.5,370.3 150.5,371.8 170.5,373.8 190.5,370.7 210.5,367.0 230.5,365.5 250.5,366.1 270.5,363.3 290.5,362.7 310.5,361.3 330.5,360.9 350.5,357.0 370.5,348.7 390.5,338.9 410.5,316.4 430.5,298.3 450.5,284.9 470.5,280.4 490.5,279.1 510.5,277.9 530.5,280.5 550.5,286.5 570.5,297.8 590.5,313.5 610.5,322.5 630.5,328.5 650.5,333.5 670.5,337.5 690.5,339.8" fill="none" stroke="#687078" stroke-width="1"/>
<path d="M69 366.5h3M70.5 365v3M89 367.5h3M90.5 366v3M109 369.5h3M110.5 368v3M129 370.5h3M130.5 369v3M149 371.5h3M150.5 370v3M169 373.5h3M170.5 372v3M189 370.5h3M190.5 369v3M209 366.5h3M210.5 365v3M229 365.5h3M230.5 364v3M249 366.5h3M250.5 365v3M269 363.5h3M270.5 362v3M289 362.5h3M290.5 361v3M309 361.5h3M310.5 360v3M329 360.5h3M330.5 359v3M349 357.5h3M350.5 356v3M369 348.5h3M370.5 347v3M389 338.5h3M390.5 337v3M409 316.5h3M410.5 315v3M429 298.5h3M430.5 297v3M449 284.5h3M450.5 283v3M469 280.5h3M470.5 279v3M489 279.5h3M490.5 278v3M509 277.5h3M510.5 276v3M529 280.5h3M530.5 279v3M549 286.5h3M550.5 285v3M569 297.5h3M570.5 296v3M589 313.5h3M590.5 312v3M609 322.5h3M610.5 321v3M629 328.5h3M630.5 327v3M649 333.5h3M650.5 332v3M669 337.5h3M670.5 336v3M689 339.5h3M690.5 338v3" stroke="#687078" stroke-width="1" fill="none"/>
<polyline points="50.5,371.0 70.5,371.3 90.5,372.0 110.5,372.3 130.5,372.9 150.5,374.6 170.5,377.3 190.5,374.2 210.5,370.7 230.5,370.3 250.5,371.6 270.5,368.3 290.5,368.1 310.5,364.7 330.5,364.7 350.5,359.0 370.5,350.3 390.5,332.1 410.5,307.1 430.5,292.5 450.5,281.4 470.5,278.8 490.5,283.5 510.5,276.5 530.5,272.5 550.5,271.5 570.5,273.5 590.5,278.7 610.5,280.2 630.5,285.1 650.5,294.1 670.5,297.4 690.5,294.8" fill="none" stroke="#e070f0" stroke-width="1"/>
<path d="M69 371.5h3M70.5 370v3M89 371.5h3M90.5 370v3M109 372.5h3M110.5 371v3M129 372.5h3M130.5 371v3M149 374.5h3M150.5 373v3M169 377.5h3M170.5 376v3M189 374.5h3M190.5 373v3M209 370.5h3M210.5 369v3M229 370.5h3M230.5 369v3M249 371.5h3M250.5 370v3M269 368.5h3M270.5 367v3M289 368.5h3M290.5 367v3M309 364.5h3M310.5 363v3M329 364.5h3M330.5 363v3M349 359.5h3M350.5 358v3M369 350.5h3M370.5 349v3M389 332.5h3M390.5 331v3M409 307.5h3M410.5 306v3M429 292.5h3M430.5 291v3M449 281.5h3M450.5 280v3M469 278.5h3M470.5 277v3M489 283.5h3M490.5 282v3M509 276.5h3M510.5 275v3M529 272.5h3M530.5 271v3M549 271.5h3M550.5 270v3M569 273.5h3M570.5 272v3M589 278.5h3M590.5 277v3M609 280.5h3M610.5 279v3M629 285.5h3M630.5 284v3M649 294.5h3M650.5 293v3M669 297.5h3M670.5 296v3M689 294.5h3M690.5 293v3" stroke="#e070f0" stroke-width="1" fill="none"/>
<polyline points="50.5,368.9 70.5,368.6 90.5,368.3 110.5,368.6 130.5,368.1 150.5,369.0 170.5,370.0 190.5,365.2 210.5,361.0 230.5,357.4 250.5,357.9 270.5,354.8 290.5,353.9 310.5,353.3 330.5,354.6 350.5,350.9 370.5,342.6 390.5,331.9 410.5,316.4 430.5,299.6 450.5,287.1 470.5,283.5 490.5,278.7 510.5,271.2 530.5,270.1 550.5,277.6 570.5,290.0 590.5,302.9 610.5,300.5 630.5,320.5 650.5,338.5 670.5,341.5 690.5,343.4" fill="none" stroke="#6820f0" stroke-width="1"/>
<path d="M69 368.5h3M70.5 367v3M89 368.5h3M90.5 367v3M109 368.5h3M110.5 367v3M129 368.5h3M130.5 367v3M149 368.5h3M150.5 367v3M169 369.5h3M170.5 368v3M189 365.5h3M190.5 364v3M209 360.5h3M210.5 359v3M229 357.5h3M230.5 356v3M249 357.5h3M250.5 356v3M269 354.5h3M270.5 353v3M289 353.5h3M290.5 352v3M309 353.5h3M310.5 352v3M329 354.5h3M330.5 353v3M349 350.5h3M350.5 349v3M369 342.5h3M370.5 341v3M389 331.5h3M390.5 330v3M409 316.5h3M410.5 315v3M429 299.5h3M430.5 298v3M449 287.5h3M450.5 286v3M469 283.5h3M470.5 282v3M489 278.5h3M490.5 277v3M509 271.5h3M510.5 270v3M529 270.5h3M530.5 269v3M549 277.5h3M550.5 276v3M569 289.5h3M570.5 288v3M589 302.5h3M590.5 301v3M609 300.5h3M610.5 299v3M629 320.5h3M630.5 319v3M649 338.5h3M650.5 337v3M669 341.5h3M670.5 340v3M689 343.5h3M690.5 342v3" stroke="#6820f0" stroke-width="1" fill="none"/>
<polyline points="50.5,366.6 70.5,366.9 90.5,367.8 110.5,368.4 130.5,370.1 150.5,370.9 170.5,372.4 190.5,368.6 210.5,364.1 230.5,359.8 250.5,358.2 270.5,353.7 290.5,347.5 310.5,344.3 330.5,349.5 350.5,343.5 370.5,329.5 390.5,321.5 410.5,306.5 430.5,288.5 450.5,277.5 470.5,270.5 490.5,267.6 510.5,263.4 530.5,263.9 550.5,268.5 570.5,276.5 590.5,290.5 610.5,305.5 630.5,318.5 650.5,328.5 670.5,333.5 690.5,336.5" fill="none" stroke="#7a5a28" stroke-width="1"/>
<path d="M69 366.5h3M70.5 365v3M89 367.5h3M90.5 366v3M109 368.5h3M110.5 367v3M129 370.5h3M130.5 369v3M149 370.5h3M150.5 369v3M169 372.5h3M170.5 371v3M189 368.5h3M190.5 367v3M209 364.5h3M210.5 363v3M229 359.5h3M230.5 358v3M249 358.5h3M250.5 357v3M269 353.5h3M270.5 352v3M289 347.5h3M290.5 346v3M309 344.5h3M310.5 343v3M329 349.5h3M330.5 348v3M349 343.5h3M350.5 342v3M369 329.5h3M370.5 328v3M389 321.5h3M390.5 320v3M409 306.5h3M410.5 305v3M429 288.5h3M430.5 287v3M449 277.5h3M450.5 276v3M469 270.5h3M470.5 269v3M489 267.5h3M490.5 266v3M509 263.5h3M510.5 262v3M529 263.5h3M530.5 262v3M549 268.5h3M550.5 267v3M569 276.5h3M570.5 275v3M589 290.5h3M590.5 289v3M609 305.5h3M610.5 304v3M629 318.5h3M630.5 317v3M649 328.5h3M650.5 327v3M669 333.5h3M670.5 332v3M689 336.5h3M690.5 335v3" stroke="#7a5a28" stroke-width="1" fill="none"/>
<polyline points="50.5,367.8 70.5,367.8 90.5,368.0 110.5,368.6 130.5,369.2 150.5,369.5 170.5,370.5 190.5,365.1 210.5,359.1 230.5,355.5 250.5,354.1 270.5,352.4 290.5,353.1 310.5,353.9 330.5,355.8 350.5,352.2 370.5,345.9 390.5,342.3 410.5,337.5 430.5,330.4 450.5,321.1 470.5,308.2 490.5,310.6 510.5,307.2 530.5,306.7 550.5,310.8 570.5,325.0 590.5,322.5 610.5,331.9 630.5,345.5 650.5,361.2 670.5,370.5 690.5,379.8" fill="none" stroke="#2c0068" stroke-width="1"/>
<path d="M69 367.5h3M70.5 366v3M89 367.5h3M90.5 366v3M109 368.5h3M110.5 367v3M129 369.5h3M130.5 368v3M149 369.5h3M150.5 368v3M169 370.5h3M170.5 369v3M189 365.5h3M190.5 364v3M209 359.5h3M210.5 358v3M229 355.5h3M230.5 354v3M249 354.5h3M250.5 353v3M269 352.5h3M270.5 351v3M289 353.5h3M290.5 352v3M309 353.5h3M310.5 352v3M329 355.5h3M330.5 354v3M349 352.5h3M350.5 351v3M369 345.5h3M370.5 344v3M389 342.5h3M390.5 341v3M409 337.5h3M410.5 336v3M429 330.5h3M430.5 329v3M449 321.5h3M450.5 320v3M469 308.5h3M470.5 307v3M489 310.5h3M490.5 309v3M509 307.5h3M510.5 306v3M529 306.5h3M530.5 305v3M549 310.5h3M550.5 309v3M569 325.5h3M570.5 324v3M589 322.5h3M590.5 321v3M609 331.5h3M610.5 330v3M629 345.5h3M630.5 344v3M649 361.5h3M650.5 360v3M669 370.5h3M670.5 369v3M689 379.5h3M690.5 378v3" stroke="#2c0068" stroke-width="1" fill="none"/>
<polyline points="50.5,364.6 70.5,365.2 90.5,366.0 110.5,365.9 130.5,367.0 150.5,366.4 170.5,365.0 190.5,356.5 210.5,350.8 230.5,348.7 250.5,348.7 270.5,346.4 290.5,347.0 310.5,350.4 330.5,352.6 350.5,349.2 370.5,340.8 390.5,332.1 410.5,316.4 430.5,308.6 450.5,300.4 470.5,296.2 490.5,297.5 510.5,296.7 530.5,299.5 550.5,305.9 570.5,317.6 590.5,329.8 610.5,336.2 630.5,342.5 650.5,349.1 670.5,352.5 690.5,355.0" fill="none" stroke="#f0d808" stroke-width="1"/>
<path d="M69 365.5h3M70.5 364v3M89 366.5h3M90.5 365v3M109 365.5h3M110.5 364v3M129 367.5h3M130.5 366v3M149 366.5h3M150.5 365v3M169 365.5h3M170.5 364v3M189 356.5h3M190.5 355v3M209 350.5h3M210.5 349v3M229 348.5h3M230.5 347v3M249 348.5h3M250.5 347v3M269 346.5h3M270.5 345v3M289 347.5h3M290.5 346v3M309 350.5h3M310.5 349v3M329 352.5h3M330.5 351v3M349 349.5h3M350.5 348v3M369 340.5h3M370.5 339v3M389 332.5h3M390.5 331v3M409 316.5h3M410.5 315v3M429 308.5h3M430.5 307v3M449 300.5h3M450.5 299v3M469 296.5h3M470.5 295v3M489 297.5h3M490.5 296v3M509 296.5h3M510.5 295v3M529 299.5h3M530.5 298v3M549 305.5h3M550.5 304v3M569 317.5h3M570.5 316v3M589 329.5h3M590.5 328v3M609 336.5h3M610.5 335v3M629 342.5h3M630.5 341v3M649 349.5h3M650.5 348v3M669 352.5h3M670.5 351v3M689 355.5h3M690.5 354v3" stroke="#f0d808" stroke-width="1" fill="none"/>
<polyline points="50.5,369.8 70.5,369.9 90.5,370.2 110.5,370.3 130.5,371.0 150.5,372.1 170.5,374.1 190.5,371.1 210.5,368.4 230.5,367.8 250.5,368.2 270.5,365.0 290.5,365.2 310.5,363.6 330.5,363.7 350.5,361.4 370.5,358.5 390.5,352.5 410.5,348.2 430.5,334.5 450.5,324.2 470.5,309.5 490.5,305.5 510.5,309.3 530.5,312.4 550.5,319.0 570.5,335.7 590.5,345.0 610.5,354.5 630.5,362.0 650.5,368.8 670.5,365.8 690.5,365.6" fill="none" stroke="#2060a0" stroke-width="1"/>
<path d="M69 369.5h3M70.5 368v3M89 370.5h3M90.5 369v3M109 370.5h3M110.5 369v3M129 371.5h3M130.5 370v3M149 372.5h3M150.5 371v3M169 374.5h3M170.5 373v3M189 371.5h3M190.5 370v3M209 368.5h3M210.5 367v3M229 367.5h3M230.5 366v3M249 368.5h3M250.5 367v3M269 365.5h3M270.5 364v3M289 365.5h3M290.5 364v3M309 363.5h3M310.5 362v3M329 363.5h3M330.5 362v3M349 361.5h3M350.5 360v3M369 358.5h3M370.5 357v3M389 352.5h3M390.5 351v3M409 348.5h3M410.5 347v3M429 334.5h3M430.5 333v3M449 324.5h3M450.5 323v3M469 309.5h3M470.5 308v3M489 305.5h3M490.5 304v3M509 309.5h3M510.5 308v3M529 312.5h3M530.5 311v3M549 319.5h3M550.5 318v3M569 335.5h3M570.5 334v3M589 344.5h3M590.5 343v3M609 354.5h3M610.5 353v3M629 362.5h3M630.5 361v3M649 368.5h3M650.5 367v3M669 365.5h3M670.5 364v3M689 365.5h3M690.5 364v3" stroke="#2060a0" stroke-width="1" fill="none"/>
<polyline points="50.5,365.2 70.5,365.3 90.5,364.5 110.5,361.5 130.5,361.0 150.5,361.8 170.5,363.1 190.5,358.0 210.5,351.6 230.5,351.0 250.5,351.5 270.5,358.0 290.5,361.0 310.5,360.9 330.5,361.2 350.5,357.7 370.5,351.1 390.5,342.8 410.5,329.9 430.5,315.3 450.5,303.1 470.5,299.5 490.5,304.7 510.5,308.9 530.5,311.8 550.5,318.7 570.5,338.3 590.5,350.7 610.5,360.6 630.5,368.3 650.5,378.3 670.5,377.0 690.5,377.8" fill="none" stroke="#8c5020" stroke-width="1"/>
<path d="M69 365.5h3M70.5 364v3M89 364.5h3M90.5 363v3M109 361.5h3M110.5 360v3M129 361.5h3M130.5 360v3M149 361.5h3M150.5 360v3M169 363.5h3M170.5 362v3M189 358.5h3M190.5 357v3M209 351.5h3M210.5 350v3M229 351.5h3M230.5 350v3M249 351.5h3M250.5 350v3M269 358.5h3M270.5 357v3M289 360.5h3M290.5 359v3M309 360.5h3M310.5 359v3M329 361.5h3M330.5 360v3M349 357.5h3M350.5 356v3M369 351.5h3M370.5 350v3M389 342.5h3M390.5 341v3M409 329.5h3M410.5 328v3M429 315.5h3M430.5 314v3M449 303.5h3M450.5 302v3M469 299.5h3M470.5 298v3M489 304.5h3M490.5 303v3M509 308.5h3M510.5 307v3M529 311.5h3M530.5 310v3M549 318.5h3M550.5 317v3M569 338.5h3M570.5 337v3M589 350.5h3M590.5 349v3M609 360.5h3M610.5 359v3M629 368.5h3M630.5 367v3M649 378.5h3M650.5 377v3M669 376.5h3M670.5 375v3M689 377.5h3M690.5 376v3" stroke="#8c5020" stroke-width="1" fill="none"/>
<polyline points="50.5,369.6 70.5,369.4 90.5,369.5 110.5,369.6 130.5,370.0 150.5,370.7 170.5,372.5 190.5,369.5 210.5,366.5 230.5,364.2 250.5,365.3 270.5,362.4 290.5,360.0 310.5,358.8 330.5,357.2 350.5,353.6 370.5,347.4 390.5,341.1 410.5,330.2 430.5,318.4 450.5,309.2 470.5,302.4 490.5,307.4 510.5,310.2 530.5,313.9 550.5,319.8 570.5,336.9 590.5,346.3 610.5,355.4 630.5,364.7 650.5,370.1 670.5,368.1 690.5,366.8" fill="none" stroke="#9080e8" stroke-width="1"/>
<path d="M69 369.5h3M70.5 368v3M89 369.5h3M90.5 368v3M109 369.5h3M110.5 368v3M129 370.5h3M130.5 369v3M149 370.5h3M150.5 369v3M169 372.5h3M170.5 371v3M189 369.5h3M190.5 368v3M209 366.5h3M210.5 365v3M229 364.5h3M230.5 363v3M249 365.5h3M250.5 364v3M269 362.5h3M270.5 361v3M289 360.5h3M290.5 359v3M309 358.5h3M310.5 357v3M329 357.5h3M330.5 356v3M349 353.5h3M350.5 352v3M369 347.5h3M370.5 346v3M389 341.5h3M390.5 340v3M409 330.5h3M410.5 329v3M429 318.5h3M430.5 317v3M449 309.5h3M450.5 308v3M469 302.5h3M470.5 301v3M489 307.5h3M490.5 306v3M509 310.5h3M510.5 309v3M529 313.5h3M530.5 312v3M549 319.5h3M550.5 318v3M569 336.5h3M570.5 335v3M589 346.5h3M590.5 345v3M609 355.5h3M610.5 354v3M629 364.5h3M630.5 363v3M649 370.5h3M650.5 369v3M669 368.5h3M670.5 367v3M689 366.5h3M690.5 365v3" stroke="#9080e8" stroke-width="1" fill="none"/>
<polyline points="50.5,365.3 70.5,365.3 90.5,365.9 110.5,365.0 130.5,364.6 150.5,364.8 170.5,367.0 190.5,362.1 210.5,359.1 230.5,358.0 250.5,363.1 270.5,369.5 290.5,372.0 310.5,370.5 330.5,371.8 350.5,366.5 370.5,358.5 390.5,338.9 410.5,316.4 430.5,297.1 450.5,287.1 470.5,282.2 490.5,279.7 510.5,277.5 530.5,279.5 550.5,283.0 570.5,293.5 590.5,302.5 610.5,311.9 630.5,320.5 650.5,328.5 670.5,333.5 690.5,336.2" fill="none" stroke="#98fc30" stroke-width="1"/>
<path d="M69 365.5h3M70.5 364v3M89 365.5h3M90.5 364v3M109 364.5h3M110.5 363v3M129 364.5h3M130.5 363v3M149 364.5h3M150.5 363v3M169 366.5h3M170.5 365v3M189 362.5h3M190.5 361v3M209 359.5h3M210.5 358v3M229 357.5h3M230.5 356v3M249 363.5h3M250.5 362v3M269 369.5h3M270.5 368v3M289 372.5h3M290.5 371v3M309 370.5h3M310.5 369v3M329 371.5h3M330.5 370v3M349 366.5h3M350.5 365v3M369 358.5h3M370.5 357v3M389 338.5h3M390.5 337v3M409 316.5h3M410.5 315v3M429 297.5h3M430.5 296v3M449 287.5h3M450.5 286v3M469 282.5h3M470.5 281v3M489 279.5h3M490.5 278v3M509 277.5h3M510.5 276v3M529 279.5h3M530.5 278v3M549 283.5h3M550.5 282v3M569 293.5h3M570.5 292v3M589 302.5h3M590.5 301v3M609 311.5h3M610.5 310v3M629 320.5h3M630.5 319v3M649 328.5h3M650.5 327v3M669 333.5h3M670.5 332v3M689 336.5h3M690.5 335v3" stroke="#98fc30" stroke-width="1" fill="none"/>
<polyline points="50.5,366.1 70.5,366.1 90.5,367.1 110.5,367.0 130.5,368.8 150.5,372.1 170.5,378.5 190.5,376.7 210.5,373.5 230.5,374.0 250.5,375.1 270.5,371.8 290.5,368.5 310.5,356.5 330.5,354.0 350.5,347.7 370.5,335.0 390.5,329.9 410.5,323.2 430.5,311.1 450.5,303.4 470.5,299.3 490.5,304.9 510.5,311.0 530.5,314.6 550.5,322.5 570.5,337.5 590.5,347.9 610.5,358.7 630.5,365.6 650.5,371.7 670.5,370.0 690.5,368.7" fill="none" stroke="#d870d0" stroke-width="1"/>
<path d="M69 366.5h3M70.5 365v3M89 367.5h3M90.5 366v3M109 367.5h3M110.5 366v3M129 368.5h3M130.5 367v3M149 372.5h3M150.5 371v3M169 378.5h3M170.5 377v3M189 376.5h3M190.5 375v3M209 373.5h3M210.5 372v3M229 374.5h3M230.5 373v3M249 375.5h3M250.5 374v3M269 371.5h3M270.5 370v3M289 368.5h3M290.5 367v3M309 356.5h3M310.5 355v3M329 353.5h3M330.5 352v3M349 347.5h3M350.5 346v3M369 335.5h3M370.5 334v3M389 329.5h3M390.5 328v3M409 323.5h3M410.5 322v3M429 311.5h3M430.5 310v3M449 303.5h3M450.5 302v3M469 299.5h3M470.5 298v3M489 304.5h3M490.5 303v3M509 310.5h3M510.5 309v3M529 314.5h3M530.5 313v3M549 322.5h3M550.5 321v3M569 337.5h3M570.5 336v3M589 347.5h3M590.5 346v3M609 358.5h3M610.5 357v3M629 365.5h3M630.5 364v3M649 371.5h3M650.5 370v3M669 369.5h3M670.5 368v3M689 368.5h3M690.5 367v3" stroke="#d870d0" stroke-width="1" fill="none"/>
<polyline points="50.5,362.3 70.5,363.1 90.5,364.4 110.5,363.8 130.5,364.4 150.5,365.6 170.5,367.1 190.5,362.4 210.5,358.0 230.5,355.4 250.5,356.3 270.5,354.5 290.5,356.1 310.5,361.1 330.5,371.5 350.5,367.8 370.5,362.9 390.5,352.5 410.5,343.5 430.5,330.5 450.5,318.5 470.5,313.9 490.5,320.8 510.5,325.1 530.5,337.9 550.5,358.5 570.5,387.9 590.5,402.5 610.5,398.8 630.5,392.9 650.5,395.1 670.5,393.8 690.5,390.6" fill="none" stroke="#2000a0" stroke-width="1"/>
<path d="M69 363.5h3M70.5 362v3M89 364.5h3M90.5 363v3M109 363.5h3M110.5 362v3M129 364.5h3M130.5 363v3M149 365.5h3M150.5 364v3M169 367.5h3M170.5 366v3M189 362.5h3M190.5 361v3M209 358.5h3M210.5 357v3M229 355.5h3M230.5 354v3M249 356.5h3M250.5 355v3M269 354.5h3M270.5 353v3M289 356.5h3M290.5 355v3M309 361.5h3M310.5 360v3M329 371.5h3M330.5 370v3M349 367.5h3M350.5 366v3M369 362.5h3M370.5 361v3M389 352.5h3M390.5 351v3M409 343.5h3M410.5 342v3M429 330.5h3M430.5 329v3M449 318.5h3M450.5 317v3M469 313.5h3M470.5 312v3M489 320.5h3M490.5 319v3M509 325.5h3M510.5 324v3M529 337.5h3M530.5 336v3M549 358.5h3M550.5 357v3M569 387.5h3M570.5 386v3M589 402.5h3M590.5 401v3M609 398.5h3M610.5 397v3M629 392.5h3M630.5 391v3M649 395.5h3M650.5 394v3M669 393.5h3M670.5 392v3M689 390.5h3M690.5 389v3" stroke="#2000a0" stroke-width="1" fill="none"/>
<polyline points="50.5,367.0 70.5,367.0 90.5,367.4 110.5,367.3 130.5,367.7 150.5,368.5 170.5,369.2 190.5,363.7 210.5,357.7 230.5,353.7 250.5,354.1 270.5,351.7 290.5,352.5 310.5,352.7 330.5,355.6 350.5,352.1 370.5,344.1 390.5,338.9 410.5,323.2 430.5,308.1 450.5,297.8 470.5,296.5 490.5,300.5 510.5,305.3 530.5,310.1 550.5,317.6 570.5,337.6 590.5,352.4 610.5,363.8 630.5,372.4 650.5,376.7 670.5,375.3 690.5,373.6" fill="none" stroke="#e8c8a0" stroke-width="1"/>
<path d="M69 367.5h3M70.5 366v3M89 367.5h3M90.5 366v3M109 367.5h3M110.5 366v3M129 367.5h3M130.5 366v3M149 368.5h3M150.5 367v3M169 369.5h3M170.5 368v3M189 363.5h3M190.5 362v3M209 357.5h3M210.5 356v3M229 353.5h3M230.5 352v3M249 354.5h3M250.5 353v3M269 351.5h3M270.5 350v3M289 352.5h3M290.5 351v3M309 352.5h3M310.5 351v3M329 355.5h3M330.5 354v3M349 352.5h3M350.5 351v3M369 344.5h3M370.5 343v3M389 338.5h3M390.5 337v3M409 323.5h3M410.5 322v3M429 308.5h3M430.5 307v3M449 297.5h3M450.5 296v3M469 296.5h3M470.5 295v3M489 300.5h3M490.5 299v3M509 305.5h3M510.5 304v3M529 310.5h3M530.5 309v3M549 317.5h3M550.5 316v3M569 337.5h3M570.5 336v3M589 352.5h3M590.5 351v3M609 363.5h3M610.5 362v3M629 372.5h3M630.5 371v3M649 376.5h3M650.5 375v3M669 375.5h3M670.5 374v3M689 373.5h3M690.5 372v3" stroke="#e8c8a0" stroke-width="1" fill="none"/>
<polyline points="50.5,366.7 70.5,367.1 90.5,367.9 110.5,369.2 130.5,370.8 150.5,371.6 170.5,372.2 190.5,366.2 210.5,356.5 230.5,353.2 250.5,351.3 270.5,346.7 290.5,345.5 310.5,346.0 330.5,355.2 350.5,355.7 370.5,349.1 390.5,338.9 410.5,315.2 430.5,290.6 450.5,278.4 470.5,278.4 490.5,286.5 510.5,281.5 530.5,279.5 550.5,281.5 570.5,284.1 590.5,287.9 610.5,293.7 630.5,303.4 650.5,313.0 670.5,319.4 690.5,324.4" fill="none" stroke="#800808" stroke-width="1"/>
<path d="M69 367.5h3M70.5 366v3M89 367.5h3M90.5 366v3M109 369.5h3M110.5 368v3M129 370.5h3M130.5 369v3M149 371.5h3M150.5 370v3M169 372.5h3M170.5 371v3M189 366.5h3M190.5 365v3M209 356.5h3M210.5 355v3M229 353.5h3M230.5 352v3M249 351.5h3M250.5 350v3M269 346.5h3M270.5 345v3M289 345.5h3M290.5 344v3M309 346.5h3M310.5 345v3M329 355.5h3M330.5 354v3M349 355.5h3M350.5 354v3M369 349.5h3M370.5 348v3M389 338.5h3M390.5 337v3M409 315.5h3M410.5 314v3M429 290.5h3M430.5 289v3M449 278.5h3M450.5 277v3M469 278.5h3M470.5 277v3M489 286.5h3M490.5 285v3M509 281.5h3M510.5 280v3M529 279.5h3M530.5 278v3M549 281.5h3M550.5 280v3M569 284.5h3M570.5 283v3M589 287.5h3M590.5 286v3M609 293.5h3M610.5 292v3M629 303.5h3M630.5 302v3M649 313.5h3M650.5 312v3M669 319.5h3M670.5 318v3M689 324.5h3M690.5 323v3" stroke="#800808" stroke-width="1" fill="none"/>
<polyline points="50.5,369.4 70.5,369.2 90.5,370.4 110.5,371.5 130.5,374.0 150.5,379.7 170.5,382.8 190.5,374.5 210.5,368.5 230.5,363.4 250.5,362.0 270.5,359.0 290.5,358.5 310.5,356.6 330.5,355.0 350.5,347.8 370.5,332.8 390.5,317.9 410.5,301.6 430.5,283.1 450.5,272.8 470.5,267.6 490.5,269.0 510.5,266.5 530.5,264.5 550.5,267.5 570.5,273.8 590.5,279.4 610.5,290.5 630.5,302.7 650.5,316.6 670.5,322.6 690.5,329.1" fill="none" stroke="#0030b8" stroke-width="1"/>
<path d="M69 369.5h3M70.5 368v3M89 370.5h3M90.5 369v3M109 371.5h3M110.5 370v3M129 374.5h3M130.5 373v3M149 379.5h3M150.5 378v3M169 382.5h3M170.5 381v3M189 374.5h3M190.5 373v3M209 368.5h3M210.5 367v3M229 363.5h3M230.5 362v3M249 361.5h3M250.5 360v3M269 359.5h3M270.5 358v3M289 358.5h3M290.5 357v3M309 356.5h3M310.5 355v3M329 354.5h3M330.5 353v3M349 347.5h3M350.5 346v3M369 332.5h3M370.5 331v3M389 317.5h3M390.5 316v3M409 301.5h3M410.5 300v3M429 283.5h3M430.5 282v3M449 272.5h3M450.5 271v3M469 267.5h3M470.5 266v3M489 269.5h3M490.5 268v3M509 266.5h3M510.5 265v3M529 264.5h3M530.5 263v3M549 267.5h3M550.5 266v3M569 273.5h3M570.5 272v3M589 279.5h3M590.5 278v3M609 290.5h3M610.5 289v3M629 302.5h3M630.5 301v3M649 316.5h3M650.5 315v3M669 322.5h3M670.5 321v3M689 329.5h3M690.5 328v3" stroke="#0030b8" stroke-width="1" fill="none"/>
<polyline points="70.5,530.4 90.5,537.6 110.5,539.7 130.5,542.0 150.5,543.5 170.5,544.0 190.5,545.2 210.5,544.7 230.5,545.1 250.5,545.2 270.5,545.3 290.5,545.4 310.5,545.4 330.5,545.3 350.5,545.2 370.5,545.4 390.5,545.4 410.5,544.6 430.5,543.0 450.5,545.3 470.5,543.2 490.5,542.9 510.5,545.2 530.5,543.9 550.5,545.1 570.5,544.9 590.5,543.9 610.5,543.7 630.5,545.2 650.5,545.3 670.5,543.6 690.5,545.5" fill="none" stroke="#e08030" stroke-width="1"/>
<path d="M69 530.5h3M70.5 529v3M89 537.5h3M90.5 536v3M109 539.5h3M110.5 538v3M129 541.5h3M130.5 540v3M149 543.5h3M150.5 542v3M169 544.5h3M170.5 543v3M189 545.5h3M190.5 544v3M209 544.5h3M210.5 543v3M229 545.5h3M230.5 544v3M249 545.5h3M250.5 544v3M269 545.5h3M270.5 544v3M289 545.5h3M290.5 544v3M309 545.5h3M310.5 544v3M329 545.5h3M330.5 544v3M349 545.5h3M350.5 544v3M369 545.5h3M370.5 544v3M389 545.5h3M390.5 544v3M409 544.5h3M410.5 543v3M429 543.5h3M430.5 542v3M449 545.5h3M450.5 544v3M469 543.5h3M470.5 542v3M489 542.5h3M490.5 541v3M509 545.5h3M510.5 544v3M529 543.5h3M530.5 542v3M549 545.5h3M550.5 544v3M569 544.5h3M570.5 543v3M589 543.5h3M590.5 542v3M609 543.5h3M610.5 542v3M629 545.5h3M630.5 544v3M649 545.5h3M650.5 544v3M669 543.5h3M670.5 542v3M689 545.5h3M690.5 544v3" stroke="#e08030" stroke-width="1" fill="none"/>
<polyline points="70.5,530.4 90.5,534.4 110.5,543.3 130.5,542.3 150.5,544.5 170.5,545.1 190.5,542.6 210.5,545.3 230.5,545.3 250.5,545.2 270.5,545.4 290.5,544.7 310.5,545.3 330.5,545.4 350.5,544.6 370.5,545.4 390.5,545.2 410.5,545.4 430.5,545.2 450.5,544.2 470.5,542.2 490.5,544.1 510.5,543.2 530.5,543.5 550.5,544.9 570.5,543.3 590.5,545.2 610.5,543.8 630.5,543.7 650.5,543.6 670.5,545.2 690.5,545.5" fill="none" stroke="#7cc46c" stroke-width="1"/>
<path d="M69 530.5h3M70.5 529v3M89 534.5h3M90.5 533v3M109 543.5h3M110.5 542v3M129 542.5h3M130.5 541v3M149 544.5h3M150.5 543v3M169 545.5h3M170.5 544v3M189 542.5h3M190.5 541v3M209 545.5h3M210.5 544v3M229 545.5h3M230.5 544v3M249 545.5h3M250.5 544v3M269 545.5h3M270.5 544v3M289 544.5h3M290.5 543v3M309 545.5h3M310.5 544v3M329 545.5h3M330.5 544v3M349 544.5h3M350.5 543v3M369 545.5h3M370.5 544v3M389 545.5h3M390.5 544v3M409 545.5h3M410.5 544v3M429 545.5h3M430.5 544v3M449 544.5h3M450.5 543v3M469 542.5h3M470.5 541v3M489 544.5h3M490.5 543v3M509 543.5h3M510.5 542v3M529 543.5h3M530.5 542v3M549 544.5h3M550.5 543v3M569 543.5h3M570.5 542v3M589 545.5h3M590.5 544v3M609 543.5h3M610.5 542v3M629 543.5h3M630.5 542v3M649 543.5h3M650.5 542v3M669 545.5h3M670.5 544v3M689 545.5h3M690.5 544v3" stroke="#7cc46c" stroke-width="1" fill="none"/>
<polyline points="70.5,543.1 90.5,538.4 110.5,542.7 130.5,543.8 150.5,545.3 170.5,544.2 190.5,543.6 210.5,538.6 230.5,541.5 250.5,544.8 270.5,545.3 290.5,545.4 310.5,545.3 330.5,545.5 350.5,545.3 370.5,545.3 390.5,545.3 410.5,545.5 430.5,545.3 450.5,545.4 470.5,545.3 490.5,544.8 510.5,545.0 530.5,543.5 550.5,528.2 570.5,540.5 590.5,544.5 610.5,544.7 630.5,545.4 650.5,545.4 670.5,545.4 690.5,545.5" fill="none" stroke="#f2c010" stroke-width="1"/>
<path d="M69 543.5h3M70.5 542v3M89 538.5h3M90.5 537v3M109 542.5h3M110.5 541v3M129 543.5h3M130.5 542v3M149 545.5h3M150.5 544v3M169 544.5h3M170.5 543v3M189 543.5h3M190.5 542v3M209 538.5h3M210.5 537v3M229 541.5h3M230.5 540v3M249 544.5h3M250.5 543v3M269 545.5h3M270.5 544v3M289 545.5h3M290.5 544v3M309 545.5h3M310.5 544v3M329 545.5h3M330.5 544v3M349 545.5h3M350.5 544v3M369 545.5h3M370.5 544v3M389 545.5h3M390.5 544v3M409 545.5h3M410.5 544v3M429 545.5h3M430.5 544v3M449 545.5h3M450.5 544v3M469 545.5h3M470.5 544v3M489 544.5h3M490.5 543v3M509 545.5h3M510.5 544v3M529 543.5h3M530.5 542v3M549 528.5h3M550.5 527v3M569 540.5h3M570.5 539v3M589 544.5h3M590.5 543v3M609 544.5h3M610.5 543v3M629 545.5h3M630.5 544v3M649 545.5h3M650.5 544v3M669 545.5h3M670.5 544v3M689 545.5h3M690.5 544v3" stroke="#f2c010" stroke-width="1" fill="none"/>
<polyline points="70.5,530.7 90.5,530.8 110.5,540.9 130.5,538.7 150.5,542.0 170.5,539.0 190.5,544.9 210.5,545.1 230.5,545.0 250.5,544.9 270.5,545.3 290.5,545.4 310.5,545.3 330.5,545.4 350.5,545.4 370.5,544.9 390.5,545.2 410.5,543.5 430.5,535.9 450.5,543.5 470.5,543.8 490.5,543.6 510.5,543.4 530.5,544.7 550.5,545.2 570.5,543.7 590.5,545.1 610.5,542.7 630.5,544.5 650.5,543.4 670.5,543.3 690.5,545.5" fill="none" stroke="#8a4cad" stroke-width="1"/>
<path d="M69 530.5h3M70.5 529v3M89 530.5h3M90.5 529v3M109 540.5h3M110.5 539v3M129 538.5h3M130.5 537v3M149 541.5h3M150.5 540v3M169 538.5h3M170.5 537v3M189 544.5h3M190.5 543v3M209 545.5h3M210.5 544v3M229 544.5h3M230.5 543v3M249 544.5h3M250.5 543v3M269 545.5h3M270.5 544v3M289 545.5h3M290.5 544v3M309 545.5h3M310.5 544v3M329 545.5h3M330.5 544v3M349 545.5h3M350.5 544v3M369 544.5h3M370.5 543v3M389 545.5h3M390.5 544v3M409 543.5h3M410.5 542v3M429 535.5h3M430.5 534v3M449 543.5h3M450.5 542v3M469 543.5h3M470.5 542v3M489 543.5h3M490.5 542v3M509 543.5h3M510.5 542v3M529 544.5h3M530.5 543v3M549 545.5h3M550.5 544v3M569 543.5h3M570.5 542v3M589 545.5h3M590.5 544v3M609 542.5h3M610.5 541v3M629 544.5h3M630.5 543v3M649 543.5h3M650.5 542v3M669 543.5h3M670.5 542v3M689 545.5h3M690.5 544v3" stroke="#8a4cad" stroke-width="1" fill="none"/>
<polyline points="70.5,524.5 90.5,518.3 110.5,523.7 130.5,534.5 150.5,540.5 170.5,544.8 190.5,545.3 210.5,545.4 230.5,545.4 250.5,544.7 270.5,545.4 290.5,545.4 310.5,545.2 330.5,545.4 350.5,545.3 370.5,545.4 390.5,545.4 410.5,545.1 430.5,545.2 450.5,544.2 470.5,544.1 490.5,544.1 510.5,543.5 530.5,515.9 550.5,529.1 570.5,532.0 590.5,523.6 610.5,540.6 630.5,534.0 650.5,540.5 670.5,540.1 690.5,545.5" fill="none" stroke="#b0500c" stroke-width="1"/>
<path d="M69 524.5h3M70.5 523v3M89 518.5h3M90.5 517v3M109 523.5h3M110.5 522v3M129 534.5h3M130.5 533v3M149 540.5h3M150.5 539v3M169 544.5h3M170.5 543v3M189 545.5h3M190.5 544v3M209 545.5h3M210.5 544v3M229 545.5h3M230.5 544v3M249 544.5h3M250.5 543v3M269 545.5h3M270.5 544v3M289 545.5h3M290.5 544v3M309 545.5h3M310.5 544v3M329 545.5h3M330.5 544v3M349 545.5h3M350.5 544v3M369 545.5h3M370.5 544v3M389 545.5h3M390.5 544v3M409 545.5h3M410.5 544v3M429 545.5h3M430.5 544v3M449 544.5h3M450.5 543v3M469 544.5h3M470.5 543v3M489 544.5h3M490.5 543v3M509 543.5h3M510.5 542v3M529 515.5h3M530.5 514v3M549 529.5h3M550.5 528v3M569 532.5h3M570.5 531v3M589 523.5h3M590.5 522v3M609 540.5h3M610.5 539v3M629 534.5h3M630.5 533v3M649 540.5h3M650.5 539v3M669 540.5h3M670.5 539v3M689 545.5h3M690.5 544v3" stroke="#b0500c" stroke-width="1" fill="none"/>
<polyline points="70.5,529.3 90.5,531.0 110.5,539.0 130.5,539.4 150.5,539.1 170.5,543.3 190.5,539.7 210.5,545.3 230.5,545.3 250.5,541.6 270.5,544.1 290.5,544.3 310.5,544.6 330.5,544.1 350.5,545.3 370.5,545.3 390.5,545.3 410.5,545.4 430.5,541.4 450.5,544.9 470.5,539.1 490.5,543.4 510.5,544.4 530.5,544.9 550.5,541.4 570.5,544.1 590.5,545.3 610.5,542.3 630.5,544.8 650.5,545.3 670.5,543.0 690.5,545.5" fill="none" stroke="#4e8010" stroke-width="1"/>
<path d="M69 529.5h3M70.5 528v3M89 531.5h3M90.5 530v3M109 539.5h3M110.5 538v3M129 539.5h3M130.5 538v3M149 539.5h3M150.5 538v3M169 543.5h3M170.5 542v3M189 539.5h3M190.5 538v3M209 545.5h3M210.5 544v3M229 545.5h3M230.5 544v3M249 541.5h3M250.5 540v3M269 544.5h3M270.5 543v3M289 544.5h3M290.5 543v3M309 544.5h3M310.5 543v3M329 544.5h3M330.5 543v3M349 545.5h3M350.5 544v3M369 545.5h3M370.5 544v3M389 545.5h3M390.5 544v3M409 545.5h3M410.5 544v3M429 541.5h3M430.5 540v3M449 544.5h3M450.5 543v3M469 539.5h3M470.5 538v3M489 543.5h3M490.5 542v3M509 544.5h3M510.5 543v3M529 544.5h3M530.5 543v3M549 541.5h3M550.5 540v3M569 544.5h3M570.5 543v3M589 545.5h3M590.5 544v3M609 542.5h3M610.5 541v3M629 544.5h3M630.5 543v3M649 545.5h3M650.5 544v3M669 542.5h3M670.5 541v3M689 545.5h3M690.5 544v3" stroke="#4e8010" stroke-width="1" fill="none"/>
<polyline points="70.5,541.0 90.5,534.0 110.5,543.0 130.5,543.9 150.5,545.3 170.5,544.7 190.5,544.8 210.5,545.1 230.5,545.1 250.5,544.6 270.5,545.4 290.5,544.9 310.5,544.9 330.5,545.2 350.5,545.4 370.5,545.4 390.5,544.8 410.5,545.4 430.5,543.4 450.5,545.1 470.5,543.3 490.5,519.3 510.5,528.2 530.5,537.1 550.5,543.5 570.5,544.7 590.5,543.3 610.5,543.5 630.5,526.1 650.5,535.9 670.5,541.5 690.5,545.5" fill="none" stroke="#0a80ff" stroke-width="1"/>
<path d="M69 540.5h3M70.5 539v3M89 534.5h3M90.5 533v3M109 542.5h3M110.5 541v3M129 543.5h3M130.5 542v3M149 545.5h3M150.5 544v3M169 544.5h3M170.5 543v3M189 544.5h3M190.5 543v3M209 545.5h3M210.5 544v3M229 545.5h3M230.5 544v3M249 544.5h3M250.5 543v3M269 545.5h3M270.5 544v3M289 544.5h3M290.5 543v3M309 544.5h3M310.5 543v3M329 545.5h3M330.5 544v3M349 545.5h3M350.5 544v3M369 545.5h3M370.5 544v3M389 544.5h3M390.5 543v3M409 545.5h3M410.5 544v3M429 543.5h3M430.5 542v3M449 545.5h3M450.5 544v3M469 543.5h3M470.5 542v3M489 519.5h3M490.5 518v3M509 528.5h3M510.5 527v3M529 537.5h3M530.5 536v3M549 543.5h3M550.5 542v3M569 544.5h3M570.5 543v3M589 543.5h3M590.5 542v3M609 543.5h3M610.5 542v3M629 526.5h3M630.5 525v3M649 535.5h3M650.5 534v3M669 541.5h3M670.5 540v3M689 545.5h3M690.5 544v3" stroke="#0a80ff" stroke-width="1" fill="none"/>
<polyline points="70.5,528.5 90.5,526.4 110.5,535.3 130.5,538.0 150.5,544.2 170.5,540.2 190.5,542.2 210.5,542.7 230.5,544.8 250.5,545.3 270.5,544.5 290.5,544.3 310.5,545.2 330.5,543.8 350.5,545.3 370.5,544.3 390.5,544.5 410.5,545.3 430.5,542.1 450.5,544.0 470.5,544.0 490.5,533.7 510.5,544.0 530.5,542.7 550.5,544.5 570.5,543.9 590.5,544.7 610.5,542.9 630.5,542.0 650.5,543.2 670.5,545.2 690.5,545.5" fill="none" stroke="#e8d4a8" stroke-width="1"/>
<path d="M69 528.5h3M70.5 527v3M89 526.5h3M90.5 525v3M109 535.5h3M110.5 534v3M129 537.5h3M130.5 536v3M149 544.5h3M150.5 543v3M169 540.5h3M170.5 539v3M189 542.5h3M190.5 541v3M209 542.5h3M210.5 541v3M229 544.5h3M230.5 543v3M249 545.5h3M250.5 544v3M269 544.5h3M270.5 543v3M289 544.5h3M290.5 543v3M309 545.5h3M310.5 544v3M329 543.5h3M330.5 542v3M349 545.5h3M350.5 544v3M369 544.5h3M370.5 543v3M389 544.5h3M390.5 543v3M409 545.5h3M410.5 544v3M429 542.5h3M430.5 541v3M449 543.5h3M450.5 542v3M469 544.5h3M470.5 543v3M489 533.5h3M490.5 532v3M509 544.5h3M510.5 543v3M529 542.5h3M530.5 541v3M549 544.5h3M550.5 543v3M569 543.5h3M570.5 542v3M589 544.5h3M590.5 543v3M609 542.5h3M610.5 541v3M629 541.5h3M630.5 540v3M649 543.5h3M650.5 542v3M669 545.5h3M670.5 544v3M689 545.5h3M690.5 544v3" stroke="#e8d4a8" stroke-width="1" fill="none"/>
<polyline points="70.5,535.1 90.5,538.1 110.5,540.3 130.5,538.0 150.5,538.0 170.5,536.5 190.5,541.0 210.5,544.4 230.5,544.5 250.5,545.4 270.5,544.6 290.5,545.1 310.5,545.2 330.5,545.0 350.5,544.9 370.5,545.4 390.5,545.5 410.5,545.4 430.5,544.9 450.5,545.4 470.5,543.5 490.5,522.5 510.5,513.1 530.5,534.8 550.5,531.0 570.5,541.5 590.5,544.5 610.5,544.7 630.5,545.1 650.5,545.4 670.5,544.6 690.5,545.5" fill="none" stroke="#3a8cc0" stroke-width="1"/>
<path d="M69 535.5h3M70.5 534v3M89 538.5h3M90.5 537v3M109 540.5h3M110.5 539v3M129 538.5h3M130.5 537v3M149 538.5h3M150.5 537v3M169 536.5h3M170.5 535v3M189 541.5h3M190.5 540v3M209 544.5h3M210.5 543v3M229 544.5h3M230.5 543v3M249 545.5h3M250.5 544v3M269 544.5h3M270.5 543v3M289 545.5h3M290.5 544v3M309 545.5h3M310.5 544v3M329 544.5h3M330.5 543v3M349 544.5h3M350.5 543v3M369 545.5h3M370.5 544v3M389 545.5h3M390.5 544v3M409 545.5h3M410.5 544v3M429 544.5h3M430.5 543v3M449 545.5h3M450.5 544v3M469 543.5h3M470.5 542v3M489 522.5h3M490.5 521v3M509 513.5h3M510.5 512v3M529 534.5h3M530.5 533v3M549 531.5h3M550.5 530v3M569 541.5h3M570.5 540v3M589 544.5h3M590.5 543v3M609 544.5h3M610.5 543v3M629 545.5h3M630.5 544v3M649 545.5h3M650.5 544v3M669 544.5h3M670.5 543v3M689 545.5h3M690.5 544v3" stroke="#3a8cc0" stroke-width="1" fill="none"/>
<polyline points="70.5,538.7 90.5,540.4 110.5,543.5 130.5,542.5 150.5,545.4 170.5,544.5 190.5,545.4 210.5,545.1 230.5,545.5 250.5,545.4 270.5,545.4 290.5,545.3 310.5,544.3 330.5,539.5 350.5,540.2 370.5,543.5 390.5,544.5 410.5,542.4 430.5,506.1 450.5,526.2 470.5,541.5 490.5,491.7 510.5,536.7 530.5,543.5 550.5,544.5 570.5,545.2 590.5,545.4 610.5,545.5 630.5,545.4 650.5,545.5 670.5,545.3 690.5,545.5" fill="none" stroke="#e8a850" stroke-width="1"/>
<path d="M69 538.5h3M70.5 537v3M89 540.5h3M90.5 539v3M109 543.5h3M110.5 542v3M129 542.5h3M130.5 541v3M149 545.5h3M150.5 544v3M169 544.5h3M170.5 543v3M189 545.5h3M190.5 544v3M209 545.5h3M210.5 544v3M229 545.5h3M230.5 544v3M249 545.5h3M250.5 544v3M269 545.5h3M270.5 544v3M289 545.5h3M290.5 544v3M309 544.5h3M310.5 543v3M329 539.5h3M330.5 538v3M349 540.5h3M350.5 539v3M369 543.5h3M370.5 542v3M389 544.5h3M390.5 543v3M409 542.5h3M410.5 541v3M429 506.5h3M430.5 505v3M449 526.5h3M450.5 525v3M469 541.5h3M470.5 540v3M489 491.5h3M490.5 490v3M509 536.5h3M510.5 535v3M529 543.5h3M530.5 542v3M549 544.5h3M550.5 543v3M569 545.5h3M570.5 544v3M589 545.5h3M590.5 544v3M609 545.5h3M610.5 544v3M629 545.5h3M630.5 544v3M649 545.5h3M650.5 544v3M669 545.5h3M670.5 544v3M689 545.5h3M690.5 544v3" stroke="#e8a850" stroke-width="1" fill="none"/>
<polyline points="70.5,543.5 90.5,545.1 110.5,545.4 130.5,545.5 150.5,545.5 170.5,545.4 190.5,544.6 210.5,545.4 230.5,545.3 250.5,545.4 270.5,545.4 290.5,545.5 310.5,545.5 330.5,545.4 350.5,545.5 370.5,545.4 390.5,545.4 410.5,545.5 430.5,544.9 450.5,545.4 470.5,545.1 490.5,544.8 510.5,542.4 530.5,532.0 550.5,535.8 570.5,539.5 590.5,543.5 610.5,545.1 630.5,545.2 650.5,545.4 670.5,545.4 690.5,545.5" fill="none" stroke="#65501c" stroke-width="1"/>
<path d="M69 543.5h3M70.5 542v3M89 545.5h3M90.5 544v3M109 545.5h3M110.5 544v3M129 545.5h3M130.5 544v3M149 545.5h3M150.5 544v3M169 545.5h3M170.5 544v3M189 544.5h3M190.5 543v3M209 545.5h3M210.5 544v3M229 545.5h3M230.5 544v3M249 545.5h3M250.5 544v3M269 545.5h3M270.5 544v3M289 545.5h3M290.5 544v3M309 545.5h3M310.5 544v3M329 545.5h3M330.5 544v3M349 545.5h3M350.5 544v3M369 545.5h3M370.5 544v3M389 545.5h3M390.5 544v3M409 545.5h3M410.5 544v3M429 544.5h3M430.5 543v3M449 545.5h3M450.5 544v3M469 545.5h3M470.5 544v3M489 544.5h3M490.5 543v3M509 542.5h3M510.5 541v3M529 532.5h3M530.5 531v3M549 535.5h3M550.5 534v3M569 539.5h3M570.5 538v3M589 543.5h3M590.5 542v3M609 545.5h3M610.5 544v3M629 545.5h3M630.5 544v3M649 545.5h3M650.5 544v3M669 545.5h3M670.5 544v3M689 545.5h3M690.5 544v3" stroke="#65501c" stroke-width="1" fill="none"/>
<polyline points="70.5,542.9 90.5,534.4 110.5,543.3 130.5,544.8 150.5,543.8 170.5,544.8 190.5,544.1 210.5,545.0 230.5,544.3 250.5,544.8 270.5,545.1 290.5,545.4 310.5,545.4 330.5,545.1 350.5,545.4 370.5,545.4 390.5,545.5 410.5,545.2 430.5,545.4 450.5,545.3 470.5,544.9 490.5,541.3 510.5,544.8 530.5,543.2 550.5,545.4 570.5,544.2 590.5,545.3 610.5,545.3 630.5,544.5 650.5,545.0 670.5,545.3 690.5,545.5" fill="none" stroke="#f2601c" stroke-width="1"/>
<path d="M69 542.5h3M70.5 541v3M89 534.5h3M90.5 533v3M109 543.5h3M110.5 542v3M129 544.5h3M130.5 543v3M149 543.5h3M150.5 542v3M169 544.5h3M170.5 543v3M189 544.5h3M190.5 543v3M209 545.5h3M210.5 544v3M229 544.5h3M230.5 543v3M249 544.5h3M250.5 543v3M269 545.5h3M270.5 544v3M289 545.5h3M290.5 544v3M309 545.5h3M310.5 544v3M329 545.5h3M330.5 544v3M349 545.5h3M350.5 544v3M369 545.5h3M370.5 544v3M389 545.5h3M390.5 544v3M409 545.5h3M410.5 544v3M429 545.5h3M430.5 544v3M449 545.5h3M450.5 544v3M469 544.5h3M470.5 543v3M489 541.5h3M490.5 540v3M509 544.5h3M510.5 543v3M529 543.5h3M530.5 542v3M549 545.5h3M550.5 544v3M569 544.5h3M570.5 543v3M589 545.5h3M590.5 544v3M609 545.5h3M610.5 544v3M629 544.5h3M630.5 543v3M649 545.5h3M650.5 544v3M669 545.5h3M670.5 544v3M689 545.5h3M690.5 544v3" stroke="#f2601c" stroke-width="1" fill="none"/>
<polyline points="70.5,516.0 90.5,520.5 110.5,531.5 130.5,539.5 150.5,540.3 170.5,544.9 190.5,545.2 210.5,543.4 230.5,543.6 250.5,545.1 270.5,544.9 290.5,545.4 310.5,545.1 330.5,545.0 350.5,545.5 370.5,545.4 390.5,545.3 410.5,544.6 430.5,543.3 450.5,541.7 470.5,534.8 490.5,525.4 510.5,532.9 530.5,540.5 550.5,543.9 570.5,543.8 590.5,545.3 610.5,545.2 630.5,544.2 650.5,545.3 670.5,544.4 690.5,545.5" fill="none" stroke="#d0bc70" stroke-width="1"/>
<path d="M69 516.5h3M70.5 515v3M89 520.5h3M90.5 519v3M109 531.5h3M110.5 530v3M129 539.5h3M130.5 538v3M149 540.5h3M150.5 539v3M169 544.5h3M170.5 543v3M189 545.5h3M190.5 544v3M209 543.5h3M210.5 542v3M229 543.5h3M230.5 542v3M249 545.5h3M250.5 544v3M269 544.5h3M270.5 543v3M289 545.5h3M290.5 544v3M309 545.5h3M310.5 544v3M329 545.5h3M330.5 544v3M349 545.5h3M350.5 544v3M369 545.5h3M370.5 544v3M389 545.5h3M390.5 544v3M409 544.5h3M410.5 543v3M429 543.5h3M430.5 542v3M449 541.5h3M450.5 540v3M469 534.5h3M470.5 533v3M489 525.5h3M490.5 524v3M509 532.5h3M510.5 531v3M529 540.5h3M530.5 539v3M549 543.5h3M550.5 542v3M569 543.5h3M570.5 542v3M589 545.5h3M590.5 544v3M609 545.5h3M610.5 544v3M629 544.5h3M630.5 543v3M649 545.5h3M650.5 544v3M669 544.5h3M670.5 543v3M689 545.5h3M690.5 544v3" stroke="#d0bc70" stroke-width="1" fill="none"/>
<polyline points="70.5,544.2 90.5,542.8 110.5,545.0 130.5,545.3 150.5,544.9 170.5,543.6 190.5,544.5 210.5,545.2 230.5,545.0 250.5,545.4 270.5,545.5 290.5,545.4 310.5,545.3 330.5,545.5 350.5,545.4 370.5,545.5 390.5,545.4 410.5,545.3 430.5,545.4 450.5,545.3 470.5,545.4 490.5,543.4 510.5,545.3 530.5,544.0 550.5,545.4 570.5,544.9 590.5,544.7 610.5,544.8 630.5,544.8 650.5,545.4 670.5,544.8 690.5,545.5" fill="none" stroke="#00d850" stroke-width="1"/>
<path d="M69 544.5h3M70.5 543v3M89 542.5h3M90.5 541v3M109 545.5h3M110.5 544v3M129 545.5h3M130.5 544v3M149 544.5h3M150.5 543v3M169 543.5h3M170.5 542v3M189 544.5h3M190.5 543v3M209 545.5h3M210.5 544v3M229 545.5h3M230.5 544v3M249 545.5h3M250.5 544v3M269 545.5h3M270.5 544v3M289 545.5h3M290.5 544v3M309 545.5h3M310.5 544v3M329 545.5h3M330.5 544v3M349 545.5h3M350.5 544v3M369 545.5h3M370.5 544v3M389 545.5h3M390.5 544v3M409 545.5h3M410.5 544v3M429 545.5h3M430.5 544v3M449 545.5h3M450.5 544v3M469 545.5h3M470.5 544v3M489 543.5h3M490.5 542v3M509 545.5h3M510.5 544v3M529 544.5h3M530.5 543v3M549 545.5h3M550.5 544v3M569 544.5h3M570.5 543v3M589 544.5h3M590.5 543v3M609 544.5h3M610.5 543v3M629 544.5h3M630.5 543v3M649 545.5h3M650.5 544v3M669 544.5h3M670.5 543v3M689 545.5h3M690.5 544v3" stroke="#00d850" stroke-width="1" fill="none"/>
<polyline points="70.5,532.5 90.5,523.3 110.5,536.1 130.5,537.0 150.5,536.5 170.5,535.5 190.5,540.5 210.5,542.5 230.5,542.7 250.5,545.0 270.5,545.2 290.5,544.8 310.5,545.2 330.5,545.3 350.5,545.4 370.5,544.6 390.5,545.1 410.5,544.6 430.5,540.7 450.5,545.2 470.5,544.0 490.5,541.2 510.5,537.6 530.5,539.6 550.5,539.2 570.5,541.7 590.5,545.0 610.5,544.9 630.5,541.6 650.5,545.0 670.5,545.1 690.5,545.5" fill="none" stroke="#254560" stroke-width="1"/>
<path d="M69 532.5h3M70.5 531v3M89 523.5h3M90.5 522v3M109 536.5h3M110.5 535v3M129 537.5h3M130.5 536v3M149 536.5h3M150.5 535v3M169 535.5h3M170.5 534v3M189 540.5h3M190.5 539v3M209 542.5h3M210.5 541v3M229 542.5h3M230.5 541v3M249 545.5h3M250.5 544v3M269 545.5h3M270.5 544v3M289 544.5h3M290.5 543v3M309 545.5h3M310.5 544v3M329 545.5h3M330.5 544v3M349 545.5h3M350.5 544v3M369 544.5h3M370.5 543v3M389 545.5h3M390.5 544v3M409 544.5h3M410.5 543v3M429 540.5h3M430.5 539v3M449 545.5h3M450.5 544v3M469 543.5h3M470.5 542v3M489 541.5h3M490.5 540v3M509 537.5h3M510.5 536v3M529 539.5h3M530.5 538v3M549 539.5h3M550.5 538v3M569 541.5h3M570.5 540v3M589 544.5h3M590.5 543v3M609 544.5h3M610.5 543v3M629 541.5h3M630.5 540v3M649 544.5h3M650.5 543v3M669 545.5h3M670.5 544v3M689 545.5h3M690.5 544v3" stroke="#254560" stroke-width="1" fill="none"/>
<polyline points="70.5,520.7 90.5,527.0 110.5,537.3 130.5,538.6 150.5,543.5 170.5,539.1 190.5,545.0 210.5,541.2 230.5,545.0 250.5,541.3 270.5,543.7 290.5,545.2 310.5,545.4 330.5,544.2 350.5,545.4 370.5,544.4 390.5,544.5 410.5,539.8 430.5,528.3 450.5,542.4 470.5,544.5 490.5,529.5 510.5,543.5 530.5,540.7 550.5,540.5 570.5,522.7 590.5,543.5 610.5,545.0 630.5,544.5 650.5,543.5 670.5,530.6 690.5,545.5" fill="none" stroke="#687078" stroke-width="1"/>
<path d="M69 520.5h3M70.5 519v3M89 526.5h3M90.5 525v3M109 537.5h3M110.5 536v3M129 538.5h3M130.5 537v3M149 543.5h3M150.5 542v3M169 539.5h3M170.5 538v3M189 545.5h3M190.5 544v3M209 541.5h3M210.5 540v3M229 544.5h3M230.5 543v3M249 541.5h3M250.5 540v3M269 543.5h3M270.5 542v3M289 545.5h3M290.5 544v3M309 545.5h3M310.5 544v3M329 544.5h3M330.5 543v3M349 545.5h3M350.5 544v3M369 544.5h3M370.5 543v3M389 544.5h3M390.5 543v3M409 539.5h3M410.5 538v3M429 528.5h3M430.5 527v3M449 542.5h3M450.5 541v3M469 544.5h3M470.5 543v3M489 529.5h3M490.5 528v3M509 543.5h3M510.5 542v3M529 540.5h3M530.5 539v3M549 540.5h3M550.5 539v3M569 522.5h3M570.5 521v3M589 543.5h3M590.5 542v3M609 545.5h3M610.5 544v3M629 544.5h3M630.5 543v3M649 543.5h3M650.5 542v3M669 530.5h3M670.5 529v3M689 545.5h3M690.5 544v3" stroke="#687078" stroke-width="1" fill="none"/>
<polyline points="70.5,545.0 90.5,539.2 110.5,545.3 130.5,543.6 150.5,545.4 170.5,545.4 190.5,544.6 210.5,545.4 230.5,545.4 250.5,544.9 270.5,545.4 290.5,545.5 310.5,545.5 330.5,545.4 350.5,545.3 370.5,545.4 390.5,545.5 410.5,545.4 430.5,545.1 450.5,545.5 470.5,545.3 490.5,545.1 510.5,545.4 530.5,545.2 550.5,545.1 570.5,545.3 590.5,545.4 610.5,545.5 630.5,545.4 650.5,545.5 670.5,545.5 690.5,545.5" fill="none" stroke="#e070f0" stroke-width="1"/>
<path d="M69 545.5h3M70.5 544v3M89 539.5h3M90.5 538v3M109 545.5h3M110.5 544v3M129 543.5h3M130.5 542v3M149 545.5h3M150.5 544v3M169 545.5h3M170.5 544v3M189 544.5h3M190.5 543v3M209 545.5h3M210.5 544v3M229 545.5h3M230.5 544v3M249 544.5h3M250.5 543v3M269 545.5h3M270.5 544v3M289 545.5h3M290.5 544v3M309 545.5h3M310.5 544v3M329 545.5h3M330.5 544v3M349 545.5h3M350.5 544v3M369 545.5h3M370.5 544v3M389 545.5h3M390.5 544v3M409 545.5h3M410.5 544v3M429 545.5h3M430.5 544v3M449 545.5h3M450.5 544v3M469 545.5h3M470.5 544v3M489 545.5h3M490.5 544v3M509 545.5h3M510.5 544v3M529 545.5h3M530.5 544v3M549 545.5h3M550.5 544v3M569 545.5h3M570.5 544v3M589 545.5h3M590.5 544v3M609 545.5h3M610.5 544v3M629 545.5h3M630.5 544v3M649 545.5h3M650.5 544v3M669 545.5h3M670.5 544v3M689 545.5h3M690.5 544v3" stroke="#e070f0" stroke-width="1" fill="none"/>
<polyline points="70.5,541.7 90.5,534.6 110.5,544.3 130.5,543.8 150.5,544.8 170.5,543.0 190.5,545.0 210.5,544.6 230.5,544.6 250.5,544.8 270.5,545.4 290.5,545.4 310.5,545.4 330.5,544.7 350.5,545.4 370.5,545.4 390.5,545.4 410.5,545.0 430.5,544.5 450.5,544.5 470.5,545.0 490.5,544.7 510.5,543.5 530.5,544.1 550.5,544.7 570.5,544.2 590.5,545.3 610.5,545.3 630.5,545.0 650.5,545.3 670.5,543.8 690.5,545.5" fill="none" stroke="#6820f0" stroke-width="1"/>
<path d="M69 541.5h3M70.5 540v3M89 534.5h3M90.5 533v3M109 544.5h3M110.5 543v3M129 543.5h3M130.5 542v3M149 544.5h3M150.5 543v3M169 543.5h3M170.5 542v3M189 544.5h3M190.5 543v3M209 544.5h3M210.5 543v3M229 544.5h3M230.5 543v3M249 544.5h3M250.5 543v3M269 545.5h3M270.5 544v3M289 545.5h3M290.5 544v3M309 545.5h3M310.5 544v3M329 544.5h3M330.5 543v3M349 545.5h3M350.5 544v3M369 545.5h3M370.5 544v3M389 545.5h3M390.5 544v3M409 544.5h3M410.5 543v3M429 544.5h3M430.5 543v3M449 544.5h3M450.5 543v3M469 545.5h3M470.5 544v3M489 544.5h3M490.5 543v3M509 543.5h3M510.5 542v3M529 544.5h3M530.5 543v3M549 544.5h3M550.5 543v3M569 544.5h3M570.5 543v3M589 545.5h3M590.5 544v3M609 545.5h3M610.5 544v3M629 544.5h3M630.5 543v3M649 545.5h3M650.5 544v3M669 543.5h3M670.5 542v3M689 545.5h3M690.5 544v3" stroke="#6820f0" stroke-width="1" fill="none"/>
<polyline points="70.5,515.6 90.5,517.0 110.5,531.2 130.5,538.5 150.5,541.5 170.5,543.2 190.5,544.8 210.5,545.0 230.5,545.4 250.5,544.6 270.5,545.4 290.5,545.5 310.5,545.5 330.5,545.5 350.5,545.3 370.5,545.4 390.5,545.3 410.5,545.5 430.5,545.3 450.5,545.3 470.5,545.2 490.5,544.6 510.5,545.1 530.5,545.4 550.5,545.3 570.5,544.3 590.5,545.2 610.5,545.0 630.5,545.3 650.5,545.3 670.5,545.0 690.5,545.5" fill="none" stroke="#7a5a28" stroke-width="1"/>
<path d="M69 515.5h3M70.5 514v3M89 517.5h3M90.5 516v3M109 531.5h3M110.5 530v3M129 538.5h3M130.5 537v3M149 541.5h3M150.5 540v3M169 543.5h3M170.5 542v3M189 544.5h3M190.5 543v3M209 545.5h3M210.5 544v3M229 545.5h3M230.5 544v3M249 544.5h3M250.5 543v3M269 545.5h3M270.5 544v3M289 545.5h3M290.5 544v3M309 545.5h3M310.5 544v3M329 545.5h3M330.5 544v3M349 545.5h3M350.5 544v3M369 545.5h3M370.5 544v3M389 545.5h3M390.5 544v3M409 545.5h3M410.5 544v3M429 545.5h3M430.5 544v3M449 545.5h3M450.5 544v3M469 545.5h3M470.5 544v3M489 544.5h3M490.5 543v3M509 545.5h3M510.5 544v3M529 545.5h3M530.5 544v3M549 545.5h3M550.5 544v3M569 544.5h3M570.5 543v3M589 545.5h3M590.5 544v3M609 545.5h3M610.5 544v3M629 545.5h3M630.5 544v3M649 545.5h3M650.5 544v3M669 545.5h3M670.5 544v3M689 545.5h3M690.5 544v3" stroke="#7a5a28" stroke-width="1" fill="none"/>
<polyline points="70.5,524.0 90.5,528.4 110.5,540.2 130.5,538.6 150.5,540.4 170.5,543.7 190.5,544.4 210.5,542.4 230.5,543.9 250.5,541.3 270.5,545.3 290.5,545.4 310.5,545.4 330.5,545.3 350.5,544.3 370.5,545.4 390.5,545.3 410.5,545.1 430.5,543.1 450.5,543.5 470.5,530.7 490.5,529.5 510.5,535.8 530.5,541.5 550.5,540.5 570.5,535.0 590.5,523.0 610.5,541.5 630.5,543.5 650.5,535.9 670.5,543.5 690.5,545.5" fill="none" stroke="#2c0068" stroke-width="1"/>
<path d="M69 524.5h3M70.5 523v3M89 528.5h3M90.5 527v3M109 540.5h3M110.5 539v3M129 538.5h3M130.5 537v3M149 540.5h3M150.5 539v3M169 543.5h3M170.5 542v3M189 544.5h3M190.5 543v3M209 542.5h3M210.5 541v3M229 543.5h3M230.5 542v3M249 541.5h3M250.5 540v3M269 545.5h3M270.5 544v3M289 545.5h3M290.5 544v3M309 545.5h3M310.5 544v3M329 545.5h3M330.5 544v3M349 544.5h3M350.5 543v3M369 545.5h3M370.5 544v3M389 545.5h3M390.5 544v3M409 545.5h3M410.5 544v3M429 543.5h3M430.5 542v3M449 543.5h3M450.5 542v3M469 530.5h3M470.5 529v3M489 529.5h3M490.5 528v3M509 535.5h3M510.5 534v3M529 541.5h3M530.5 540v3M549 540.5h3M550.5 539v3M569 535.5h3M570.5 534v3M589 523.5h3M590.5 522v3M609 541.5h3M610.5 540v3M629 543.5h3M630.5 542v3M649 535.5h3M650.5 534v3M669 543.5h3M670.5 542v3M689 545.5h3M690.5 544v3" stroke="#2c0068" stroke-width="1" fill="none"/>
<polyline points="70.5,545.0 90.5,536.0 110.5,542.7 130.5,545.3 150.5,544.2 170.5,544.3 190.5,540.0 210.5,538.6 230.5,541.0 250.5,544.2 270.5,545.1 290.5,545.5 310.5,545.5 330.5,545.2 350.5,545.5 370.5,545.3 390.5,545.5 410.5,545.2 430.5,545.4 450.5,545.3 470.5,545.4 490.5,545.2 510.5,545.2 530.5,545.3 550.5,544.8 570.5,544.8 590.5,545.4 610.5,545.4 630.5,545.2 650.5,545.3 670.5,545.5 690.5,545.5" fill="none" stroke="#f0d808" stroke-width="1"/>
<path d="M69 545.5h3M70.5 544v3M89 536.5h3M90.5 535v3M109 542.5h3M110.5 541v3M129 545.5h3M130.5 544v3M149 544.5h3M150.5 543v3M169 544.5h3M170.5 543v3M189 540.5h3M190.5 539v3M209 538.5h3M210.5 537v3M229 541.5h3M230.5 540v3M249 544.5h3M250.5 543v3M269 545.5h3M270.5 544v3M289 545.5h3M290.5 544v3M309 545.5h3M310.5 544v3M329 545.5h3M330.5 544v3M349 545.5h3M350.5 544v3M369 545.5h3M370.5 544v3M389 545.5h3M390.5 544v3M409 545.5h3M410.5 544v3M429 545.5h3M430.5 544v3M449 545.5h3M450.5 544v3M469 545.5h3M470.5 544v3M489 545.5h3M490.5 544v3M509 545.5h3M510.5 544v3M529 545.5h3M530.5 544v3M549 544.5h3M550.5 543v3M569 544.5h3M570.5 543v3M589 545.5h3M590.5 544v3M609 545.5h3M610.5 544v3M629 545.5h3M630.5 544v3M649 545.5h3M650.5 544v3M669 545.5h3M670.5 544v3M689 545.5h3M690.5 544v3" stroke="#f0d808" stroke-width="1" fill="none"/>
<polyline points="70.5,544.0 90.5,544.7 110.5,541.3 130.5,535.5 150.5,535.0 170.5,534.0 190.5,539.5 210.5,544.4 230.5,539.7 250.5,529.5 270.5,542.9 290.5,545.0 310.5,545.4 330.5,545.5 350.5,545.5 370.5,545.3 390.5,545.3 410.5,545.2 430.5,545.0 450.5,543.3 470.5,520.6 490.5,510.2 510.5,497.9 530.5,525.7 550.5,513.1 570.5,534.8 590.5,543.5 610.5,544.9 630.5,545.2 650.5,545.4 670.5,545.5 690.5,545.5" fill="none" stroke="#2060a0" stroke-width="1"/>
<path d="M69 543.5h3M70.5 542v3M89 544.5h3M90.5 543v3M109 541.5h3M110.5 540v3M129 535.5h3M130.5 534v3M149 535.5h3M150.5 534v3M169 534.5h3M170.5 533v3M189 539.5h3M190.5 538v3M209 544.5h3M210.5 543v3M229 539.5h3M230.5 538v3M249 529.5h3M250.5 528v3M269 542.5h3M270.5 541v3M289 545.5h3M290.5 544v3M309 545.5h3M310.5 544v3M329 545.5h3M330.5 544v3M349 545.5h3M350.5 544v3M369 545.5h3M370.5 544v3M389 545.5h3M390.5 544v3M409 545.5h3M410.5 544v3M429 545.5h3M430.5 544v3M449 543.5h3M450.5 542v3M469 520.5h3M470.5 519v3M489 510.5h3M490.5 509v3M509 497.5h3M510.5 496v3M529 525.5h3M530.5 524v3M549 513.5h3M550.5 512v3M569 534.5h3M570.5 533v3M589 543.5h3M590.5 542v3M609 544.5h3M610.5 543v3M629 545.5h3M630.5 544v3M649 545.5h3M650.5 544v3M669 545.5h3M670.5 544v3M689 545.5h3M690.5 544v3" stroke="#2060a0" stroke-width="1" fill="none"/>
<polyline points="70.5,536.1 90.5,545.1 110.5,545.3 130.5,544.1 150.5,545.3 170.5,545.2 190.5,545.3 210.5,545.0 230.5,545.5 250.5,545.5 270.5,545.1 290.5,545.3 310.5,545.4 330.5,545.4 350.5,545.4 370.5,545.4 390.5,545.3 410.5,545.4 430.5,545.4 450.5,545.4 470.5,545.3 490.5,544.0 510.5,544.1 530.5,544.5 550.5,544.7 570.5,545.3 590.5,545.3 610.5,544.8 630.5,545.1 650.5,543.5 670.5,524.9 690.5,545.5" fill="none" stroke="#8c5020" stroke-width="1"/>
<path d="M69 536.5h3M70.5 535v3M89 545.5h3M90.5 544v3M109 545.5h3M110.5 544v3M129 544.5h3M130.5 543v3M149 545.5h3M150.5 544v3M169 545.5h3M170.5 544v3M189 545.5h3M190.5 544v3M209 544.5h3M210.5 543v3M229 545.5h3M230.5 544v3M249 545.5h3M250.5 544v3M269 545.5h3M270.5 544v3M289 545.5h3M290.5 544v3M309 545.5h3M310.5 544v3M329 545.5h3M330.5 544v3M349 545.5h3M350.5 544v3M369 545.5h3M370.5 544v3M389 545.5h3M390.5 544v3M409 545.5h3M410.5 544v3M429 545.5h3M430.5 544v3M449 545.5h3M450.5 544v3M469 545.5h3M470.5 544v3M489 543.5h3M490.5 542v3M509 544.5h3M510.5 543v3M529 544.5h3M530.5 543v3M549 544.5h3M550.5 543v3M569 545.5h3M570.5 544v3M589 545.5h3M590.5 544v3M609 544.5h3M610.5 543v3M629 545.5h3M630.5 544v3M649 543.5h3M650.5 542v3M669 524.5h3M670.5 523v3M689 545.5h3M690.5 544v3" stroke="#8c5020" stroke-width="1" fill="none"/>
<polyline points="70.5,541.1 90.5,538.1 110.5,545.3 130.5,542.4 150.5,545.2 170.5,545.4 190.5,544.4 210.5,545.5 230.5,545.3 250.5,545.2 270.5,545.3 290.5,545.5 310.5,545.3 330.5,545.2 350.5,545.4 370.5,545.5 390.5,545.3 410.5,545.4 430.5,545.2 450.5,545.4 470.5,545.3 490.5,544.9 510.5,543.4 530.5,545.4 550.5,545.1 570.5,545.4 590.5,545.4 610.5,545.1 630.5,545.4 650.5,545.3 670.5,545.4 690.5,545.5" fill="none" stroke="#9080e8" stroke-width="1"/>
<path d="M69 541.5h3M70.5 540v3M89 538.5h3M90.5 537v3M109 545.5h3M110.5 544v3M129 542.5h3M130.5 541v3M149 545.5h3M150.5 544v3M169 545.5h3M170.5 544v3M189 544.5h3M190.5 543v3M209 545.5h3M210.5 544v3M229 545.5h3M230.5 544v3M249 545.5h3M250.5 544v3M269 545.5h3M270.5 544v3M289 545.5h3M290.5 544v3M309 545.5h3M310.5 544v3M329 545.5h3M330.5 544v3M349 545.5h3M350.5 544v3M369 545.5h3M370.5 544v3M389 545.5h3M390.5 544v3M409 545.5h3M410.5 544v3M429 545.5h3M430.5 544v3M449 545.5h3M450.5 544v3M469 545.5h3M470.5 544v3M489 544.5h3M490.5 543v3M509 543.5h3M510.5 542v3M529 545.5h3M530.5 544v3M549 545.5h3M550.5 544v3M569 545.5h3M570.5 544v3M589 545.5h3M590.5 544v3M609 545.5h3M610.5 544v3M629 545.5h3M630.5 544v3M649 545.5h3M650.5 544v3M669 545.5h3M670.5 544v3M689 545.5h3M690.5 544v3" stroke="#9080e8" stroke-width="1" fill="none"/>
<polyline points="70.5,545.0 90.5,540.9 110.5,545.3 130.5,545.4 150.5,545.4 170.5,544.7 190.5,544.7 210.5,545.4 230.5,545.1 250.5,545.1 270.5,545.5 290.5,545.4 310.5,545.3 330.5,545.5 350.5,545.3 370.5,545.4 390.5,545.3 410.5,545.1 430.5,543.5 450.5,532.0 470.5,516.8 490.5,479.4 510.5,509.3 530.5,539.5 550.5,543.5 570.5,545.1 590.5,545.4 610.5,545.2 630.5,544.8 650.5,543.5 670.5,534.0 690.5,545.5" fill="none" stroke="#98fc30" stroke-width="1"/>
<path d="M69 545.5h3M70.5 544v3M89 540.5h3M90.5 539v3M109 545.5h3M110.5 544v3M129 545.5h3M130.5 544v3M149 545.5h3M150.5 544v3M169 544.5h3M170.5 543v3M189 544.5h3M190.5 543v3M209 545.5h3M210.5 544v3M229 545.5h3M230.5 544v3M249 545.5h3M250.5 544v3M269 545.5h3M270.5 544v3M289 545.5h3M290.5 544v3M309 545.5h3M310.5 544v3M329 545.5h3M330.5 544v3M349 545.5h3M350.5 544v3M369 545.5h3M370.5 544v3M389 545.5h3M390.5 544v3M409 545.5h3M410.5 544v3M429 543.5h3M430.5 542v3M449 532.5h3M450.5 531v3M469 516.5h3M470.5 515v3M489 479.5h3M490.5 478v3M509 509.5h3M510.5 508v3M529 539.5h3M530.5 538v3M549 543.5h3M550.5 542v3M569 545.5h3M570.5 544v3M589 545.5h3M590.5 544v3M609 545.5h3M610.5 544v3M629 544.5h3M630.5 543v3M649 543.5h3M650.5 542v3M669 534.5h3M670.5 533v3M689 545.5h3M690.5 544v3" stroke="#98fc30" stroke-width="1" fill="none"/>
<polyline points="70.5,524.7 90.5,523.1 110.5,536.4 130.5,537.9 150.5,544.9 170.5,543.4 190.5,544.9 210.5,545.2 230.5,544.8 250.5,545.0 270.5,543.9 290.5,545.3 310.5,544.2 330.5,545.2 350.5,543.9 370.5,545.3 390.5,544.9 410.5,543.4 430.5,544.3 450.5,543.2 470.5,544.2 490.5,542.5 510.5,544.8 530.5,543.6 550.5,544.8 570.5,544.6 590.5,544.8 610.5,541.2 630.5,544.6 650.5,542.3 670.5,545.1 690.5,545.5" fill="none" stroke="#d870d0" stroke-width="1"/>
<path d="M69 524.5h3M70.5 523v3M89 523.5h3M90.5 522v3M109 536.5h3M110.5 535v3M129 537.5h3M130.5 536v3M149 544.5h3M150.5 543v3M169 543.5h3M170.5 542v3M189 544.5h3M190.5 543v3M209 545.5h3M210.5 544v3M229 544.5h3M230.5 543v3M249 544.5h3M250.5 543v3M269 543.5h3M270.5 542v3M289 545.5h3M290.5 544v3M309 544.5h3M310.5 543v3M329 545.5h3M330.5 544v3M349 543.5h3M350.5 542v3M369 545.5h3M370.5 544v3M389 544.5h3M390.5 543v3M409 543.5h3M410.5 542v3M429 544.5h3M430.5 543v3M449 543.5h3M450.5 542v3M469 544.5h3M470.5 543v3M489 542.5h3M490.5 541v3M509 544.5h3M510.5 543v3M529 543.5h3M530.5 542v3M549 544.5h3M550.5 543v3M569 544.5h3M570.5 543v3M589 544.5h3M590.5 543v3M609 541.5h3M610.5 540v3M629 544.5h3M630.5 543v3M649 542.5h3M650.5 541v3M669 545.5h3M670.5 544v3M689 545.5h3M690.5 544v3" stroke="#d870d0" stroke-width="1" fill="none"/>
<polyline points="70.5,522.5 90.5,522.8 110.5,531.5 130.5,539.5 150.5,539.6 170.5,538.9 190.5,542.6 210.5,543.9 230.5,542.5 250.5,543.7 270.5,545.0 290.5,544.4 310.5,542.4 330.5,536.5 350.5,543.5 370.5,544.5 390.5,543.5 410.5,518.2 430.5,510.0 450.5,542.4 470.5,544.5 490.5,544.2 510.5,541.5 530.5,544.3 550.5,544.2 570.5,543.4 590.5,542.8 610.5,543.8 630.5,545.1 650.5,544.8 670.5,544.9 690.5,545.5" fill="none" stroke="#2000a0" stroke-width="1"/>
<path d="M69 522.5h3M70.5 521v3M89 522.5h3M90.5 521v3M109 531.5h3M110.5 530v3M129 539.5h3M130.5 538v3M149 539.5h3M150.5 538v3M169 538.5h3M170.5 537v3M189 542.5h3M190.5 541v3M209 543.5h3M210.5 542v3M229 542.5h3M230.5 541v3M249 543.5h3M250.5 542v3M269 545.5h3M270.5 544v3M289 544.5h3M290.5 543v3M309 542.5h3M310.5 541v3M329 536.5h3M330.5 535v3M349 543.5h3M350.5 542v3M369 544.5h3M370.5 543v3M389 543.5h3M390.5 542v3M409 518.5h3M410.5 517v3M429 510.5h3M430.5 509v3M449 542.5h3M450.5 541v3M469 544.5h3M470.5 543v3M489 544.5h3M490.5 543v3M509 541.5h3M510.5 540v3M529 544.5h3M530.5 543v3M549 544.5h3M550.5 543v3M569 543.5h3M570.5 542v3M589 542.5h3M590.5 541v3M609 543.5h3M610.5 542v3M629 545.5h3M630.5 544v3M649 544.5h3M650.5 543v3M669 544.5h3M670.5 543v3M689 545.5h3M690.5 544v3" stroke="#2000a0" stroke-width="1" fill="none"/>
<polyline points="70.5,531.8 90.5,526.2 110.5,537.7 130.5,537.9 150.5,536.2 170.5,544.7 190.5,544.9 210.5,545.2 230.5,542.2 250.5,543.5 270.5,544.7 290.5,545.0 310.5,545.2 330.5,543.9 350.5,545.4 370.5,544.7 390.5,545.0 410.5,545.2 430.5,541.8 450.5,543.7 470.5,540.5 490.5,527.3 510.5,513.1 530.5,530.7 550.5,535.8 570.5,518.5 590.5,541.5 610.5,526.5 630.5,541.5 650.5,544.5 670.5,542.5 690.5,545.5" fill="none" stroke="#e8c8a0" stroke-width="1"/>
<path d="M69 531.5h3M70.5 530v3M89 526.5h3M90.5 525v3M109 537.5h3M110.5 536v3M129 537.5h3M130.5 536v3M149 536.5h3M150.5 535v3M169 544.5h3M170.5 543v3M189 544.5h3M190.5 543v3M209 545.5h3M210.5 544v3M229 542.5h3M230.5 541v3M249 543.5h3M250.5 542v3M269 544.5h3M270.5 543v3M289 545.5h3M290.5 544v3M309 545.5h3M310.5 544v3M329 543.5h3M330.5 542v3M349 545.5h3M350.5 544v3M369 544.5h3M370.5 543v3M389 545.5h3M390.5 544v3M409 545.5h3M410.5 544v3M429 541.5h3M430.5 540v3M449 543.5h3M450.5 542v3M469 540.5h3M470.5 539v3M489 527.5h3M490.5 526v3M509 513.5h3M510.5 512v3M529 530.5h3M530.5 529v3M549 535.5h3M550.5 534v3M569 518.5h3M570.5 517v3M589 541.5h3M590.5 540v3M609 526.5h3M610.5 525v3M629 541.5h3M630.5 540v3M649 544.5h3M650.5 543v3M669 542.5h3M670.5 541v3M689 545.5h3M690.5 544v3" stroke="#e8c8a0" stroke-width="1" fill="none"/>
<polyline points="70.5,534.5 90.5,536.9 110.5,545.3 130.5,543.5 150.5,545.3 170.5,545.3 190.5,545.1 210.5,545.2 230.5,545.3 250.5,545.3 270.5,545.4 290.5,545.1 310.5,545.5 330.5,545.1 350.5,545.4 370.5,545.0 390.5,545.4 410.5,545.4 430.5,545.3 450.5,544.6 470.5,541.5 490.5,532.9 510.5,538.5 530.5,542.5 550.5,543.2 570.5,545.1 590.5,545.3 610.5,545.2 630.5,545.4 650.5,545.1 670.5,545.2 690.5,545.5" fill="none" stroke="#800808" stroke-width="1"/>
<path d="M69 534.5h3M70.5 533v3M89 536.5h3M90.5 535v3M109 545.5h3M110.5 544v3M129 543.5h3M130.5 542v3M149 545.5h3M150.5 544v3M169 545.5h3M170.5 544v3M189 545.5h3M190.5 544v3M209 545.5h3M210.5 544v3M229 545.5h3M230.5 544v3M249 545.5h3M250.5 544v3M269 545.5h3M270.5 544v3M289 545.5h3M290.5 544v3M309 545.5h3M310.5 544v3M329 545.5h3M330.5 544v3M349 545.5h3M350.5 544v3M369 545.5h3M370.5 544v3M389 545.5h3M390.5 544v3M409 545.5h3M410.5 544v3M429 545.5h3M430.5 544v3M449 544.5h3M450.5 543v3M469 541.5h3M470.5 540v3M489 532.5h3M490.5 531v3M509 538.5h3M510.5 537v3M529 542.5h3M530.5 541v3M549 543.5h3M550.5 542v3M569 545.5h3M570.5 544v3M589 545.5h3M590.5 544v3M609 545.5h3M610.5 544v3M629 545.5h3M630.5 544v3M649 545.5h3M650.5 544v3M669 545.5h3M670.5 544v3M689 545.5h3M690.5 544v3" stroke="#800808" stroke-width="1" fill="none"/>
<polyline points="70.5,532.6 90.5,535.6 110.5,541.3 130.5,542.7 150.5,539.3 170.5,544.1 190.5,544.7 210.5,543.3 230.5,544.2 250.5,544.8 270.5,544.2 290.5,544.8 310.5,545.1 330.5,545.3 350.5,545.3 370.5,544.9 390.5,545.3 410.5,544.5 430.5,544.0 450.5,544.2 470.5,542.1 490.5,543.9 510.5,544.8 530.5,540.6 550.5,542.7 570.5,544.7 590.5,544.3 610.5,543.8 630.5,543.0 650.5,545.0 670.5,544.0 690.5,545.5" fill="none" stroke="#0030b8" stroke-width="1"/>
<path d="M69 532.5h3M70.5 531v3M89 535.5h3M90.5 534v3M109 541.5h3M110.5 540v3M129 542.5h3M130.5 541v3M149 539.5h3M150.5 538v3M169 544.5h3M170.5 543v3M189 544.5h3M190.5 543v3M209 543.5h3M210.5 542v3M229 544.5h3M230.5 543v3M249 544.5h3M250.5 543v3M269 544.5h3M270.5 543v3M289 544.5h3M290.5 543v3M309 545.5h3M310.5 544v3M329 545.5h3M330.5 544v3M349 545.5h3M350.5 544v3M369 544.5h3M370.5 543v3M389 545.5h3M390.5 544v3M409 544.5h3M410.5 543v3M429 543.5h3M430.5 542v3M449 544.5h3M450.5 543v3M469 542.5h3M470.5 541v3M489 543.5h3M490.5 542v3M509 544.5h3M510.5 543v3M529 540.5h3M530.5 539v3M549 542.5h3M550.5 541v3M569 544.5h3M570.5 543v3M589 544.5h3M590.5 543v3M609 543.5h3M610.5 542v3M629 542.5h3M630.5 541v3M649 544.5h3M650.5 543v3M669 544.5h3M670.5 543v3M689 545.5h3M690.5 544v3" stroke="#0030b8" stroke-width="1" fill="none"/>
<polyline points="50.5,367.5 70.5,367.5 90.5,367.9 110.5,368.7 130.5,369.8 150.5,370.8 170.5,372.3 190.5,368.5 210.5,364.5 230.5,361.5 250.5,361.5 270.5,359.0 290.5,358.1 310.5,357.6 330.5,357.6 350.5,354.0 370.5,347.5 390.5,339.5 410.5,325.9 430.5,311.5 450.5,301.1 470.5,296.5 490.5,295.9 510.5,295.1 530.5,296.8 550.5,301.9 570.5,310.0 590.5,320.5 610.5,329.1 630.5,336.5 650.5,344.4 670.5,346.8 690.5,347.5" fill="none" stroke="#ff0000" stroke-width="3"/>
<polyline points="70.5,530.5 90.5,531.9 110.5,539.3 130.5,540.9 150.5,540.7 170.5,540.5 190.5,542.1 210.5,543.4 230.5,543.5 250.5,543.3 270.5,544.5 290.5,544.8 310.5,544.8 330.5,544.5 350.5,544.7 370.5,544.8 390.5,544.8 410.5,544.5 430.5,542.8 450.5,543.3 470.5,541.5 490.5,536.7 510.5,539.0 530.5,542.0 550.5,542.4 570.5,542.5 590.5,543.0 610.5,543.5 630.5,543.5 650.5,543.5 670.5,543.5 690.5,545.5" fill="none" stroke="#ff0000" stroke-width="3"/>
</g>
<text class="mono" x="19" y="610.2">(dam)</text>
<text class="mono" x="709" y="610.2">(mm)</text>
<text class="mono" x="60" y="355.3">Geop Z500</text>
<text class="mono" x="60" y="511">Précipitations</text>
<text class="mono" transform="translate(81,632) rotate(-90)">30/01</text>
<text class="mono" transform="translate(161,632) rotate(-90)">31/01</text>
<text class="mono" transform="translate(241,632) rotate(-90)">01/02</text>
<text class="mono" transform="translate(321,632) rotate(-90)">02/02</text>
<text class="mono" transform="translate(401,632) rotate(-90)">03/02</text>
<text class="mono" transform="translate(481,632) rotate(-90)">04/02</text>
<text class="mono" transform="translate(561,632) rotate(-90)">05/02</text>
<text class="mono" transform="translate(641,632) rotate(-90)">06/02</text>
<g shape-rendering="crispEdges">
<rect x="35" y="645" width="31" height="4" fill="#ff0000"/>
<rect x="225" y="635" width="31" height="4" fill="#0000ff"/>
<rect x="225" y="645" width="31" height="4" fill="#000000"/>
</g>
<text class="mono" x="75" y="650.3">Moyenne des scénarios</text>
<text class="mono" x="265" y="641">Run de contrôle</text>
<text class="mono" x="265" y="651">Run GFS</text>
<text class="mono" x="340" y="656">30 Perts.</text>
<text class="mono" x="180" y="663.6">Altitude du modele : 113m</text>
<rect x="20.5" y="667.5" width="420" height="32" fill="none" stroke="#000" stroke-width="1" shape-rendering="crispEdges"/>
<text class="monob" x="30" y="681">Diagramme des ensembles GEFS sur 192h : 47.2N 19.2E</text>
<text class="mono" x="30" y="696">Géopotentiel 500hpa - Z500 (dam)</text>
<text class="mono" x="450" y="676">Ensemble GEFS du 29/01/2026 - 18Z</text>
<text class="monob" x="450" y="695.6">Copyright 2026 Meteociel.fr</text>
<g shape-rendering="crispEdges">
<rect x="400" y="650" width="10" height="6" fill="#e08030"/>
<rect x="411" y="650" width="10" height="6" fill="#7cc46c"/>
<rect x="422" y="650" width="10" height="6" fill="#f2c010"/>
<rect x="433" y="650" width="10" height="6" fill="#8a4cad"/>
<rect x="444" y="650" width="10" height="6" fill="#b0500c"/>
<rect x="455" y="650" width="10" height="6" fill="#4e8010"/>
<rect x="466" y="650" width="10" height="6" fill="#0a80ff"/>
<rect x="477" y="650" width="10" height="6" fill="#e8d4a8"/>
<rect x="488" y="650" width="10" height="6" fill="#3a8cc0"/>
<rect x="499" y="650" width="10" height="6" fill="#e8a850"/>
<rect x="510" y="650" width="10" height="6" fill="#65501c"/>
<rect x="521" y="650" width="10" height="6" fill="#f2601c"/>
<rect x="532" y="650" width="10" height="6" fill="#d0bc70"/>
<rect x="543" y="650" width="10" height="6" fill="#00d850"/>
<rect x="554" y="650" width="10" height="6" fill="#254560"/>
<rect x="565" y="650" width="10" height="6" fill="#687078"/>
<rect x="576" y="650" width="10" height="6" fill="#e070f0"/>
<rect x="587" y="650" width="10" height="6" fill="#6820f0"/>
<rect x="598" y="650" width="10" height="6" fill="#7a5a28"/>
<rect x="609" y="650" width="10" height="6" fill="#2c0068"/>
<rect x="620" y="650" width="10" height="6" fill="#f0d808"/>
<rect x="631" y="650" width="10" height="6" fill="#2060a0"/>
<rect x="642" y="650" width="10" height="6" fill="#8c5020"/>
<rect x="653" y="650" width="10" height="6" fill="#9080e8"/>
<rect x="664" y="650" width="10" height="6" fill="#98fc30"/>
<rect x="675" y="650" width="10" height="6" fill="#d870d0"/>
<rect x="686" y="650" width="10" height="6" fill="#2000a0"/>
<rect x="697" y="650" width="10" height="6" fill="#e8c8a0"/>
<rect x="708" y="650" width="10" height="6" fill="#800808"/>
<rect x="719" y="650" width="10" height="6" fill="#0030b8"/>
</g>
<text class="tiny" x="400.6" y="647" textLength="8.8" lengthAdjust="spacing">01</text>
<text class="tiny" x="411.6" y="647" textLength="8.8" lengthAdjust="spacing">02</text>
<text class="tiny" x="422.6" y="647" textLength="8.8" lengthAdjust="spacing">03</text>
<text class="tiny" x="433.6" y="647" textLength="8.8" lengthAdjust="spacing">04</text>
<text class="tiny" x="444.6" y="647" textLength="8.8" lengthAdjust="spacing">05</text>
<text class="tiny" x="455.6" y="647" textLength="8.8" lengthAdjust="spacing">06</text>
<text class="tiny" x="466.6" y="647" textLength="8.8" lengthAdjust="spacing">07</text>
<text class="tiny" x="477.6" y="647" textLength="8.8" lengthAdjust="spacing">08</text>
<text class="tiny" x="488.6" y="647" textLength="8.8" lengthAdjust="spacing">09</text>
<text class="tiny" x="499.6" y="647" textLength="8.8" lengthAdjust="spacing">10</text>
<text class="tiny" x="510.6" y="647" textLength="8.8" lengthAdjust="spacing">11</text>
<text class="tiny" x="521.6" y="647" textLength="8.8" lengthAdjust="spacing">12</text>
<text class="tiny" x="532.6" y="647" textLength="8.8" lengthAdjust="spacing">13</text>
<text class="tiny" x="543.6" y="647" textLength="8.8" lengthAdjust="spacing">14</text>
<text class="tiny" x="554.6" y="647" textLength="8.8" lengthAdjust="spacing">15</text>
<text class="tiny" x="565.6" y="647" textLength="8.8" lengthAdjust="spacing">16</text>
<text class="tiny" x="576.6" y="647" textLength="8.8" lengthAdjust="spacing">17</text>
<text class="tiny" x="587.6" y="647" textLength="8.8" lengthAdjust="spacing">18</text>
<text class="tiny" x="598.6" y="647" textLength="8.8" lengthAdjust="spacing">19</text>
<text class="tiny" x="609.6" y="647" textLength="8.8" lengthAdjust="spacing">20</text>
<text class="tiny" x="620.6" y="647" textLength="8.8" lengthAdjust="spacing">21</text>
<text class="tiny" x="631.6" y="647" textLength="8.8" lengthAdjust="spacing">22</text>
<text class="tiny" x="642.6" y="647" textLength="8.8" lengthAdjust="spacing">23</text>
<text class="tiny" x="653.6" y="647" textLength="8.8" lengthAdjust="spacing">24</text>
<text class="tiny" x="664.6" y="647" textLength="8.8" lengthAdjust="spacing">25</text>
<text class="tiny" x="675.6" y="647" textLength="8.8" lengthAdjust="spacing">26</text>
<text class="tiny" x="686.6" y="647" textLength="8.8" lengthAdjust="spacing">27</text>
<text class="tiny" x="697.6" y="647" textLength="8.8" lengthAdjust="spacing">28</text>
<text class="tiny" x="708.6" y="647" textLength="8.8" lengthAdjust="spacing">29</text>
<text class="tiny" x="719.6" y="647" textLength="8.8" lengthAdjust="spacing">30</text>
<g shape-rendering="crispEdges" fill="#c8f6fa">
<rect x="165" y="575" width="10" height="8"/>
<rect x="185" y="573" width="10" height="10"/>
<rect x="205" y="574" width="10" height="9"/>
<rect x="225" y="567" width="10" height="16"/>
<rect x="245" y="565" width="10" height="18"/>
<rect x="265" y="570" width="10" height="13"/>
<rect x="285" y="579" width="10" height="4"/>
<rect x="305" y="577" width="10" height="6"/>
<rect x="325" y="576" width="10" height="7"/>
<rect x="345" y="576" width="10" height="7"/>
<rect x="365" y="579" width="10" height="4"/>
<rect x="385" y="580" width="10" height="3"/>
<rect x="405" y="579" width="10" height="4"/>
<rect x="425" y="581" width="10" height="2"/>
<rect x="485" y="582" width="10" height="1"/>
<rect x="645" y="582" width="10" height="1"/>
<rect x="665" y="582" width="10" height="1"/>
</g>
<text class="pct" transform="translate(172,581) rotate(-90)" textLength="14.5" lengthAdjust="spacingAndGlyphs">26%</text>
<text class="pct" transform="translate(192,581) rotate(-90)" textLength="14.5" lengthAdjust="spacingAndGlyphs">35%</text>
<text class="pct" transform="translate(212,581) rotate(-90)" textLength="14.5" lengthAdjust="spacingAndGlyphs">29%</text>
<text class="pct" transform="translate(232,581) rotate(-90)" textLength="14.5" lengthAdjust="spacingAndGlyphs">52%</text>
<text class="pct" transform="translate(252,581) rotate(-90)" textLength="14.5" lengthAdjust="spacingAndGlyphs">61%</text>
<text class="pct" transform="translate(272,581) rotate(-90)" textLength="14.5" lengthAdjust="spacingAndGlyphs">42%</text>
<text class="pct" transform="translate(292,581) rotate(-90)" textLength="14.5" lengthAdjust="spacingAndGlyphs">13%</text>
<text class="pct" transform="translate(312,581) rotate(-90)" textLength="14.5" lengthAdjust="spacingAndGlyphs">19%</text>
<text class="pct" transform="translate(332,581) rotate(-90)" textLength="14.5" lengthAdjust="spacingAndGlyphs">23%</text>
<text class="pct" transform="translate(352,581) rotate(-90)" textLength="14.5" lengthAdjust="spacingAndGlyphs">23%</text>
<text class="pct" transform="translate(372,581) rotate(-90)" textLength="14.5" lengthAdjust="spacingAndGlyphs">13%</text>
<text class="pct" transform="translate(392,581) rotate(-90)" textLength="14.5" lengthAdjust="spacingAndGlyphs">10%</text>
<text class="pct" transform="translate(412,581) rotate(-90)" textLength="14.5" lengthAdjust="spacingAndGlyphs">13%</text>
<text class="pct" transform="translate(432,581) rotate(-90)" textLength="9.5" lengthAdjust="spacingAndGlyphs">6%</text>
<text class="pct" transform="translate(492,581) rotate(-90)" textLength="9.5" lengthAdjust="spacingAndGlyphs">3%</text>
<text class="pct" transform="translate(652,581) rotate(-90)" textLength="9.5" lengthAdjust="spacingAndGlyphs">3%</text>
<text class="pct" transform="translate(672,581) rotate(-90)" textLength="9.5" lengthAdjust="spacingAndGlyphs">3%</text>
<g transform="translate(170.5,588.5)"><circle r="5.5" fill="#e9e4fb"/><circle r="4.9" fill="#9fd9fb"/><line x1="-0.00" y1="-4.90" x2="0.00" y2="4.90" stroke="#5bbff9" stroke-width="2.4" stroke-linecap="round"/><line x1="-4.24" y1="-2.45" x2="4.24" y2="2.45" stroke="#5bbff9" stroke-width="2.4" stroke-linecap="round"/><line x1="4.24" y1="-2.45" x2="-4.24" y2="2.45" stroke="#5bbff9" stroke-width="2.4" stroke-linecap="round"/><circle cx="0.00" cy="4.20" r="1.15" fill="#2f9fe6"/><circle cx="3.64" cy="2.10" r="1.15" fill="#2f9fe6"/><circle cx="-3.64" cy="2.10" r="1.15" fill="#2f9fe6"/><circle cx="-0.00" cy="-4.20" r="1.15" fill="#2f9fe6"/><circle cx="-3.64" cy="-2.10" r="1.15" fill="#2f9fe6"/><circle cx="3.64" cy="-2.10" r="1.15" fill="#2f9fe6"/><circle cx="3.40" cy="0.00" r="0.95" fill="#ffffff"/><circle cx="-3.40" cy="0.00" r="0.95" fill="#ffffff"/><circle cx="1.45" cy="2.51" r="0.7" fill="#ffffff"/><circle cx="-1.45" cy="2.51" r="0.7" fill="#ffffff"/><circle cx="-1.45" cy="-2.51" r="0.7" fill="#ffffff"/><circle cx="1.45" cy="-2.51" r="0.7" fill="#ffffff"/></g>
<g transform="translate(190.5,588.5)"><circle r="5.5" fill="#e9e4fb"/><circle r="4.9" fill="#9fd9fb"/><line x1="-0.00" y1="-4.90" x2="0.00" y2="4.90" stroke="#5bbff9" stroke-width="2.4" stroke-linecap="round"/><line x1="-4.24" y1="-2.45" x2="4.24" y2="2.45" stroke="#5bbff9" stroke-width="2.4" stroke-linecap="round"/><line x1="4.24" y1="-2.45" x2="-4.24" y2="2.45" stroke="#5bbff9" stroke-width="2.4" stroke-linecap="round"/><circle cx="0.00" cy="4.20" r="1.15" fill="#2f9fe6"/><circle cx="3.64" cy="2.10" r="1.15" fill="#2f9fe6"/><circle cx="-3.64" cy="2.10" r="1.15" fill="#2f9fe6"/><circle cx="-0.00" cy="-4.20" r="1.15" fill="#2f9fe6"/><circle cx="-3.64" cy="-2.10" r="1.15" fill="#2f9fe6"/><circle cx="3.64" cy="-2.10" r="1.15" fill="#2f9fe6"/><circle cx="3.40" cy="0.00" r="0.95" fill="#ffffff"/><circle cx="-3.40" cy="0.00" r="0.95" fill="#ffffff"/><circle cx="1.45" cy="2.51" r="0.7" fill="#ffffff"/><circle cx="-1.45" cy="2.51" r="0.7" fill="#ffffff"/><circle cx="-1.45" cy="-2.51" r="0.7" fill="#ffffff"/><circle cx="1.45" cy="-2.51" r="0.7" fill="#ffffff"/></g>
<g transform="translate(210.5,588.5)"><circle r="5.5" fill="#e9e4fb"/><circle r="4.9" fill="#9fd9fb"/><line x1="-0.00" y1="-4.90" x2="0.00" y2="4.90" stroke="#5bbff9" stroke-width="2.4" stroke-linecap="round"/><line x1="-4.24" y1="-2.45" x2="4.24" y2="2.45" stroke="#5bbff9" stroke-width="2.4" stroke-linecap="round"/><line x1="4.24" y1="-2.45" x2="-4.24" y2="2.45" stroke="#5bbff9" stroke-width="2.4" stroke-linecap="round"/><circle cx="0.00" cy="4.20" r="1.15" fill="#2f9fe6"/><circle cx="3.64" cy="2.10" r="1.15" fill="#2f9fe6"/><circle cx="-3.64" cy="2.10" r="1.15" fill="#2f9fe6"/><circle cx="-0.00" cy="-4.20" r="1.15" fill="#2f9fe6"/><circle cx="-3.64" cy="-2.10" r="1.15" fill="#2f9fe6"/><circle cx="3.64" cy="-2.10" r="1.15" fill="#2f9fe6"/><circle cx="3.40" cy="0.00" r="0.95" fill="#ffffff"/><circle cx="-3.40" cy="0.00" r="0.95" fill="#ffffff"/><circle cx="1.45" cy="2.51" r="0.7" fill="#ffffff"/><circle cx="-1.45" cy="2.51" r="0.7" fill="#ffffff"/><circle cx="-1.45" cy="-2.51" r="0.7" fill="#ffffff"/><circle cx="1.45" cy="-2.51" r="0.7" fill="#ffffff"/></g>
<g transform="translate(230.5,588.5)"><circle r="5.5" fill="#e9e4fb"/><circle r="4.9" fill="#9fd9fb"/><line x1="-0.00" y1="-4.90" x2="0.00" y2="4.90" stroke="#5bbff9" stroke-width="2.4" stroke-linecap="round"/><line x1="-4.24" y1="-2.45" x2="4.24" y2="2.45" stroke="#5bbff9" stroke-width="2.4" stroke-linecap="round"/><line x1="4.24" y1="-2.45" x2="-4.24" y2="2.45" stroke="#5bbff9" stroke-width="2.4" stroke-linecap="round"/><circle cx="0.00" cy="4.20" r="1.15" fill="#2f9fe6"/><circle cx="3.64" cy="2.10" r="1.15" fill="#2f9fe6"/><circle cx="-3.64" cy="2.10" r="1.15" fill="#2f9fe6"/><circle cx="-0.00" cy="-4.20" r="1.15" fill="#2f9fe6"/><circle cx="-3.64" cy="-2.10" r="1.15" fill="#2f9fe6"/><circle cx="3.64" cy="-2.10" r="1.15" fill="#2f9fe6"/><circle cx="3.40" cy="0.00" r="0.95" fill="#ffffff"/><circle cx="-3.40" cy="0.00" r="0.95" fill="#ffffff"/><circle cx="1.45" cy="2.51" r="0.7" fill="#ffffff"/><circle cx="-1.45" cy="2.51" r="0.7" fill="#ffffff"/><circle cx="-1.45" cy="-2.51" r="0.7" fill="#ffffff"/><circle cx="1.45" cy="-2.51" r="0.7" fill="#ffffff"/></g>
<g transform="translate(250.5,588.5)"><circle r="5.5" fill="#e9e4fb"/><circle r="4.9" fill="#9fd9fb"/><line x1="-0.00" y1="-4.90" x2="0.00" y2="4.90" stroke="#5bbff9" stroke-width="2.4" stroke-linecap="round"/><line x1="-4.24" y1="-2.45" x2="4.24" y2="2.45" stroke="#5bbff9" stroke-width="2.4" stroke-linecap="round"/><line x1="4.24" y1="-2.45" x2="-4.24" y2="2.45" stroke="#5bbff9" stroke-width="2.4" stroke-linecap="round"/><circle cx="0.00" cy="4.20" r="1.15" fill="#2f9fe6"/><circle cx="3.64" cy="2.10" r="1.15" fill="#2f9fe6"/><circle cx="-3.64" cy="2.10" r="1.15" fill="#2f9fe6"/><circle cx="-0.00" cy="-4.20" r="1.15" fill="#2f9fe6"/><circle cx="-3.64" cy="-2.10" r="1.15" fill="#2f9fe6"/><circle cx="3.64" cy="-2.10" r="1.15" fill="#2f9fe6"/><circle cx="3.40" cy="0.00" r="0.95" fill="#ffffff"/><circle cx="-3.40" cy="0.00" r="0.95" fill="#ffffff"/><circle cx="1.45" cy="2.51" r="0.7" fill="#ffffff"/><circle cx="-1.45" cy="2.51" r="0.7" fill="#ffffff"/><circle cx="-1.45" cy="-2.51" r="0.7" fill="#ffffff"/><circle cx="1.45" cy="-2.51" r="0.7" fill="#ffffff"/></g>
<g transform="translate(270.5,588.5)"><circle r="5.5" fill="#e9e4fb"/><circle r="4.9" fill="#9fd9fb"/><line x1="-0.00" y1="-4.90" x2="0.00" y2="4.90" stroke="#5bbff9" stroke-width="2.4" stroke-linecap="round"/><line x1="-4.24" y1="-2.45" x2="4.24" y2="2.45" stroke="#5bbff9" stroke-width="2.4" stroke-linecap="round"/><line x1="4.24" y1="-2.45" x2="-4.24" y2="2.45" stroke="#5bbff9" stroke-width="2.4" stroke-linecap="round"/><circle cx="0.00" cy="4.20" r="1.15" fill="#2f9fe6"/><circle cx="3.64" cy="2.10" r="1.15" fill="#2f9fe6"/><circle cx="-3.64" cy="2.10" r="1.15" fill="#2f9fe6"/><circle cx="-0.00" cy="-4.20" r="1.15" fill="#2f9fe6"/><circle cx="-3.64" cy="-2.10" r="1.15" fill="#2f9fe6"/><circle cx="3.64" cy="-2.10" r="1.15" fill="#2f9fe6"/><circle cx="3.40" cy="0.00" r="0.95" fill="#ffffff"/><circle cx="-3.40" cy="0.00" r="0.95" fill="#ffffff"/><circle cx="1.45" cy="2.51" r="0.7" fill="#ffffff"/><circle cx="-1.45" cy="2.51" r="0.7" fill="#ffffff"/><circle cx="-1.45" cy="-2.51" r="0.7" fill="#ffffff"/><circle cx="1.45" cy="-2.51" r="0.7" fill="#ffffff"/></g>
<g transform="translate(290.5,588.5)"><circle r="5.5" fill="#e9e4fb"/><circle r="4.9" fill="#9fd9fb"/><line x1="-0.00" y1="-4.90" x2="0.00" y2="4.90" stroke="#5bbff9" stroke-width="2.4" stroke-linecap="round"/><line x1="-4.24" y1="-2.45" x2="4.24" y2="2.45" stroke="#5bbff9" stroke-width="2.4" stroke-linecap="round"/><line x1="4.24" y1="-2.45" x2="-4.24" y2="2.45" stroke="#5bbff9" stroke-width="2.4" stroke-linecap="round"/><circle cx="0.00" cy="4.20" r="1.15" fill="#2f9fe6"/><circle cx="3.64" cy="2.10" r="1.15" fill="#2f9fe6"/><circle cx="-3.64" cy="2.10" r="1.15" fill="#2f9fe6"/><circle cx="-0.00" cy="-4.20" r="1.15" fill="#2f9fe6"/><circle cx="-3.64" cy="-2.10" r="1.15" fill="#2f9fe6"/><circle cx="3.64" cy="-2.10" r="1.15" fill="#2f9fe6"/><circle cx="3.40" cy="0.00" r="0.95" fill="#ffffff"/><circle cx="-3.40" cy="0.00" r="0.95" fill="#ffffff"/><circle cx="1.45" cy="2.51" r="0.7" fill="#ffffff"/><circle cx="-1.45" cy="2.51" r="0.7" fill="#ffffff"/><circle cx="-1.45" cy="-2.51" r="0.7" fill="#ffffff"/><circle cx="1.45" cy="-2.51" r="0.7" fill="#ffffff"/></g>
<g transform="translate(310.5,588.5)"><circle r="5.5" fill="#e9e4fb"/><circle r="4.9" fill="#9fd9fb"/><line x1="-0.00" y1="-4.90" x2="0.00" y2="4.90" stroke="#5bbff9" stroke-width="2.4" stroke-linecap="round"/><line x1="-4.24" y1="-2.45" x2="4.24" y2="2.45" stroke="#5bbff9" stroke-width="2.4" stroke-linecap="round"/><line x1="4.24" y1="-2.45" x2="-4.24" y2="2.45" stroke="#5bbff9" stroke-width="2.4" stroke-linecap="round"/><circle cx="0.00" cy="4.20" r="1.15" fill="#2f9fe6"/><circle cx="3.64" cy="2.10" r="1.15" fill="#2f9fe6"/><circle cx="-3.64" cy="2.10" r="1.15" fill="#2f9fe6"/><circle cx="-0.00" cy="-4.20" r="1.15" fill="#2f9fe6"/><circle cx="-3.64" cy="-2.10" r="1.15" fill="#2f9fe6"/><circle cx="3.64" cy="-2.10" r="1.15" fill="#2f9fe6"/><circle cx="3.40" cy="0.00" r="0.95" fill="#ffffff"/><circle cx="-3.40" cy="0.00" r="0.95" fill="#ffffff"/><circle cx="1.45" cy="2.51" r="0.7" fill="#ffffff"/><circle cx="-1.45" cy="2.51" r="0.7" fill="#ffffff"/><circle cx="-1.45" cy="-2.51" r="0.7" fill="#ffffff"/><circle cx="1.45" cy="-2.51" r="0.7" fill="#ffffff"/></g>
<g transform="translate(330.5,588.5)"><circle r="5.5" fill="#e9e4fb"/><circle r="4.9" fill="#9fd9fb"/><line x1="-0.00" y1="-4.90" x2="0.00" y2="4.90" stroke="#5bbff9" stroke-width="2.4" stroke-linecap="round"/><line x1="-4.24" y1="-2.45" x2="4.24" y2="2.45" stroke="#5bbff9" stroke-width="2.4" stroke-linecap="round"/><line x1="4.24" y1="-2.45" x2="-4.24" y2="2.45" stroke="#5bbff9" stroke-width="2.4" stroke-linecap="round"/><circle cx="0.00" cy="4.20" r="1.15" fill="#2f9fe6"/><circle cx="3.64" cy="2.10" r="1.15" fill="#2f9fe6"/><circle cx="-3.64" cy="2.10" r="1.15" fill="#2f9fe6"/><circle cx="-0.00" cy="-4.20" r="1.15" fill="#2f9fe6"/><circle cx="-3.64" cy="-2.10" r="1.15" fill="#2f9fe6"/><circle cx="3.64" cy="-2.10" r="1.15" fill="#2f9fe6"/><circle cx="3.40" cy="0.00" r="0.95" fill="#ffffff"/><circle cx="-3.40" cy="0.00" r="0.95" fill="#ffffff"/><circle cx="1.45" cy="2.51" r="0.7" fill="#ffffff"/><circle cx="-1.45" cy="2.51" r="0.7" fill="#ffffff"/><circle cx="-1.45" cy="-2.51" r="0.7" fill="#ffffff"/><circle cx="1.45" cy="-2.51" r="0.7" fill="#ffffff"/></g>
<g transform="translate(350.5,588.5)"><circle r="5.5" fill="#e9e4fb"/><circle r="4.9" fill="#9fd9fb"/><line x1="-0.00" y1="-4.90" x2="0.00" y2="4.90" stroke="#5bbff9" stroke-width="2.4" stroke-linecap="round"/><line x1="-4.24" y1="-2.45" x2="4.24" y2="2.45" stroke="#5bbff9" stroke-width="2.4" stroke-linecap="round"/><line x1="4.24" y1="-2.45" x2="-4.24" y2="2.45" stroke="#5bbff9" stroke-width="2.4" stroke-linecap="round"/><circle cx="0.00" cy="4.20" r="1.15" fill="#2f9fe6"/><circle cx="3.64" cy="2.10" r="1.15" fill="#2f9fe6"/><circle cx="-3.64" cy="2.10" r="1.15" fill="#2f9fe6"/><circle cx="-0.00" cy="-4.20" r="1.15" fill="#2f9fe6"/><circle cx="-3.64" cy="-2.10" r="1.15" fill="#2f9fe6"/><circle cx="3.64" cy="-2.10" r="1.15" fill="#2f9fe6"/><circle cx="3.40" cy="0.00" r="0.95" fill="#ffffff"/><circle cx="-3.40" cy="0.00" r="0.95" fill="#ffffff"/><circle cx="1.45" cy="2.51" r="0.7" fill="#ffffff"/><circle cx="-1.45" cy="2.51" r="0.7" fill="#ffffff"/><circle cx="-1.45" cy="-2.51" r="0.7" fill="#ffffff"/><circle cx="1.45" cy="-2.51" r="0.7" fill="#ffffff"/></g>
<g transform="translate(370.5,588.5)"><circle r="5.5" fill="#e9e4fb"/><circle r="4.9" fill="#9fd9fb"/><line x1="-0.00" y1="-4.90" x2="0.00" y2="4.90" stroke="#5bbff9" stroke-width="2.4" stroke-linecap="round"/><line x1="-4.24" y1="-2.45" x2="4.24" y2="2.45" stroke="#5bbff9" stroke-width="2.4" stroke-linecap="round"/><line x1="4.24" y1="-2.45" x2="-4.24" y2="2.45" stroke="#5bbff9" stroke-width="2.4" stroke-linecap="round"/><circle cx="0.00" cy="4.20" r="1.15" fill="#2f9fe6"/><circle cx="3.64" cy="2.10" r="1.15" fill="#2f9fe6"/><circle cx="-3.64" cy="2.10" r="1.15" fill="#2f9fe6"/><circle cx="-0.00" cy="-4.20" r="1.15" fill="#2f9fe6"/><circle cx="-3.64" cy="-2.10" r="1.15" fill="#2f9fe6"/><circle cx="3.64" cy="-2.10" r="1.15" fill="#2f9fe6"/><circle cx="3.40" cy="0.00" r="0.95" fill="#ffffff"/><circle cx="-3.40" cy="0.00" r="0.95" fill="#ffffff"/><circle cx="1.45" cy="2.51" r="0.7" fill="#ffffff"/><circle cx="-1.45" cy="2.51" r="0.7" fill="#ffffff"/><circle cx="-1.45" cy="-2.51" r="0.7" fill="#ffffff"/><circle cx="1.45" cy="-2.51" r="0.7" fill="#ffffff"/></g>
<g transform="translate(390.5,588.5)"><circle r="5.5" fill="#e9e4fb"/><circle r="4.9" fill="#9fd9fb"/><line x1="-0.00" y1="-4.90" x2="0.00" y2="4.90" stroke="#5bbff9" stroke-width="2.4" stroke-linecap="round"/><line x1="-4.24" y1="-2.45" x2="4.24" y2="2.45" stroke="#5bbff9" stroke-width="2.4" stroke-linecap="round"/><line x1="4.24" y1="-2.45" x2="-4.24" y2="2.45" stroke="#5bbff9" stroke-width="2.4" stroke-linecap="round"/><circle cx="0.00" cy="4.20" r="1.15" fill="#2f9fe6"/><circle cx="3.64" cy="2.10" r="1.15" fill="#2f9fe6"/><circle cx="-3.64" cy="2.10" r="1.15" fill="#2f9fe6"/><circle cx="-0.00" cy="-4.20" r="1.15" fill="#2f9fe6"/><circle cx="-3.64" cy="-2.10" r="1.15" fill="#2f9fe6"/><circle cx="3.64" cy="-2.10" r="1.15" fill="#2f9fe6"/><circle cx="3.40" cy="0.00" r="0.95" fill="#ffffff"/><circle cx="-3.40" cy="0.00" r="0.95" fill="#ffffff"/><circle cx="1.45" cy="2.51" r="0.7" fill="#ffffff"/><circle cx="-1.45" cy="2.51" r="0.7" fill="#ffffff"/><circle cx="-1.45" cy="-2.51" r="0.7" fill="#ffffff"/><circle cx="1.45" cy="-2.51" r="0.7" fill="#ffffff"/></g>
<g transform="translate(410.5,588.5)"><circle r="5.5" fill="#e9e4fb"/><circle r="4.9" fill="#9fd9fb"/><line x1="-0.00" y1="-4.90" x2="0.00" y2="4.90" stroke="#5bbff9" stroke-width="2.4" stroke-linecap="round"/><line x1="-4.24" y1="-2.45" x2="4.24" y2="2.45" stroke="#5bbff9" stroke-width="2.4" stroke-linecap="round"/><line x1="4.24" y1="-2.45" x2="-4.24" y2="2.45" stroke="#5bbff9" stroke-width="2.4" stroke-linecap="round"/><circle cx="0.00" cy="4.20" r="1.15" fill="#2f9fe6"/><circle cx="3.64" cy="2.10" r="1.15" fill="#2f9fe6"/><circle cx="-3.64" cy="2.10" r="1.15" fill="#2f9fe6"/><circle cx="-0.00" cy="-4.20" r="1.15" fill="#2f9fe6"/><circle cx="-3.64" cy="-2.10" r="1.15" fill="#2f9fe6"/><circle cx="3.64" cy="-2.10" r="1.15" fill="#2f9fe6"/><circle cx="3.40" cy="0.00" r="0.95" fill="#ffffff"/><circle cx="-3.40" cy="0.00" r="0.95" fill="#ffffff"/><circle cx="1.45" cy="2.51" r="0.7" fill="#ffffff"/><circle cx="-1.45" cy="2.51" r="0.7" fill="#ffffff"/><circle cx="-1.45" cy="-2.51" r="0.7" fill="#ffffff"/><circle cx="1.45" cy="-2.51" r="0.7" fill="#ffffff"/></g>
<g transform="translate(430.5,588.5)"><circle r="5.5" fill="#e9e4fb"/><circle r="4.9" fill="#9fd9fb"/><line x1="-0.00" y1="-4.90" x2="0.00" y2="4.90" stroke="#5bbff9" stroke-width="2.4" stroke-linecap="round"/><line x1="-4.24" y1="-2.45" x2="4.24" y2="2.45" stroke="#5bbff9" stroke-width="2.4" stroke-linecap="round"/><line x1="4.24" y1="-2.45" x2="-4.24" y2="2.45" stroke="#5bbff9" stroke-width="2.4" stroke-linecap="round"/><circle cx="0.00" cy="4.20" r="1.15" fill="#2f9fe6"/><circle cx="3.64" cy="2.10" r="1.15" fill="#2f9fe6"/><circle cx="-3.64" cy="2.10" r="1.15" fill="#2f9fe6"/><circle cx="-0.00" cy="-4.20" r="1.15" fill="#2f9fe6"/><circle cx="-3.64" cy="-2.10" r="1.15" fill="#2f9fe6"/><circle cx="3.64" cy="-2.10" r="1.15" fill="#2f9fe6"/><circle cx="3.40" cy="0.00" r="0.95" fill="#ffffff"/><circle cx="-3.40" cy="0.00" r="0.95" fill="#ffffff"/><circle cx="1.45" cy="2.51" r="0.7" fill="#ffffff"/><circle cx="-1.45" cy="2.51" r="0.7" fill="#ffffff"/><circle cx="-1.45" cy="-2.51" r="0.7" fill="#ffffff"/><circle cx="1.45" cy="-2.51" r="0.7" fill="#ffffff"/></g>
<g transform="translate(490.5,588.5)"><circle r="5.5" fill="#e9e4fb"/><circle r="4.9" fill="#9fd9fb"/><line x1="-0.00" y1="-4.90" x2="0.00" y2="4.90" stroke="#5bbff9" stroke-width="2.4" stroke-linecap="round"/><line x1="-4.24" y1="-2.45" x2="4.24" y2="2.45" stroke="#5bbff9" stroke-width="2.4" stroke-linecap="round"/><line x1="4.24" y1="-2.45" x2="-4.24" y2="2.45" stroke="#5bbff9" stroke-width="2.4" stroke-linecap="round"/><circle cx="0.00" cy="4.20" r="1.15" fill="#2f9fe6"/><circle cx="3.64" cy="2.10" r="1.15" fill="#2f9fe6"/><circle cx="-3.64" cy="2.10" r="1.15" fill="#2f9fe6"/><circle cx="-0.00" cy="-4.20" r="1.15" fill="#2f9fe6"/><circle cx="-3.64" cy="-2.10" r="1.15" fill="#2f9fe6"/><circle cx="3.64" cy="-2.10" r="1.15" fill="#2f9fe6"/><circle cx="3.40" cy="0.00" r="0.95" fill="#ffffff"/><circle cx="-3.40" cy="0.00" r="0.95" fill="#ffffff"/><circle cx="1.45" cy="2.51" r="0.7" fill="#ffffff"/><circle cx="-1.45" cy="2.51" r="0.7" fill="#ffffff"/><circle cx="-1.45" cy="-2.51" r="0.7" fill="#ffffff"/><circle cx="1.45" cy="-2.51" r="0.7" fill="#ffffff"/></g>
<g transform="translate(650.5,588.5)"><circle r="5.5" fill="#e9e4fb"/><circle r="4.9" fill="#9fd9fb"/><line x1="-0.00" y1="-4.90" x2="0.00" y2="4.90" stroke="#5bbff9" stroke-width="2.4" stroke-linecap="round"/><line x1="-4.24" y1="-2.45" x2="4.24" y2="2.45" stroke="#5bbff9" stroke-width="2.4" stroke-linecap="round"/><line x1="4.24" y1="-2.45" x2="-4.24" y2="2.45" stroke="#5bbff9" stroke-width="2.4" stroke-linecap="round"/><circle cx="0.00" cy="4.20" r="1.15" fill="#2f9fe6"/><circle cx="3.64" cy="2.10" r="1.15" fill="#2f9fe6"/><circle cx="-3.64" cy="2.10" r="1.15" fill="#2f9fe6"/><circle cx="-0.00" cy="-4.20" r="1.15" fill="#2f9fe6"/><circle cx="-3.64" cy="-2.10" r="1.15" fill="#2f9fe6"/><circle cx="3.64" cy="-2.10" r="1.15" fill="#2f9fe6"/><circle cx="3.40" cy="0.00" r="0.95" fill="#ffffff"/><circle cx="-3.40" cy="0.00" r="0.95" fill="#ffffff"/><circle cx="1.45" cy="2.51" r="0.7" fill="#ffffff"/><circle cx="-1.45" cy="2.51" r="0.7" fill="#ffffff"/><circle cx="-1.45" cy="-2.51" r="0.7" fill="#ffffff"/><circle cx="1.45" cy="-2.51" r="0.7" fill="#ffffff"/></g>
<g transform="translate(670.5,588.5)"><circle r="5.5" fill="#e9e4fb"/><circle r="4.9" fill="#9fd9fb"/><line x1="-0.00" y1="-4.90" x2="0.00" y2="4.90" stroke="#5bbff9" stroke-width="2.4" stroke-linecap="round"/><line x1="-4.24" y1="-2.45" x2="4.24" y2="2.45" stroke="#5bbff9" stroke-width="2.4" stroke-linecap="round"/><line x1="4.24" y1="-2.45" x2="-4.24" y2="2.45" stroke="#5bbff9" stroke-width="2.4" stroke-linecap="round"/><circle cx="0.00" cy="4.20" r="1.15" fill="#2f9fe6"/><circle cx="3.64" cy="2.10" r="1.15" fill="#2f9fe6"/><circle cx="-3.64" cy="2.10" r="1.15" fill="#2f9fe6"/><circle cx="-0.00" cy="-4.20" r="1.15" fill="#2f9fe6"/><circle cx="-3.64" cy="-2.10" r="1.15" fill="#2f9fe6"/><circle cx="3.64" cy="-2.10" r="1.15" fill="#2f9fe6"/><circle cx="3.40" cy="0.00" r="0.95" fill="#ffffff"/><circle cx="-3.40" cy="0.00" r="0.95" fill="#ffffff"/><circle cx="1.45" cy="2.51" r="0.7" fill="#ffffff"/><circle cx="-1.45" cy="2.51" r="0.7" fill="#ffffff"/><circle cx="-1.45" cy="-2.51" r="0.7" fill="#ffffff"/><circle cx="1.45" cy="-2.51" r="0.7" fill="#ffffff"/></g>
</svg></body></html>
